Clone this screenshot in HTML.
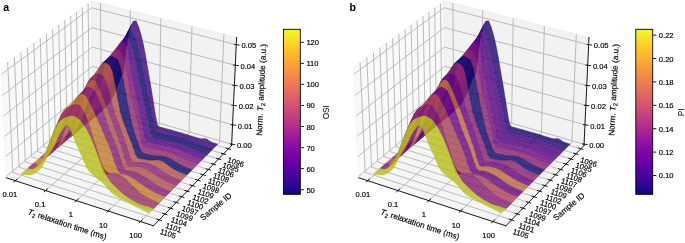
<!DOCTYPE html>
<html><head><meta charset="utf-8"><title>T2 relaxation</title>
<style>html,body{margin:0;padding:0;background:#fff}svg{display:block;will-change:transform}</style></head>
<body>
<svg width="685" height="243" viewBox="0 0 685 243">
<rect width="685" height="243" fill="#fff"/>
<polygon points="6.4,177.8 92.9,105.3 91.7,0.8 1.1,66.9" fill="#f9f9f9" stroke="#f4f4f4" stroke-width="0.8"/>
<polygon points="92.9,105.3 231.6,145.6 236.6,37.5 91.7,0.8" fill="#f2f2f2" stroke="#ececec" stroke-width="0.8"/>
<polygon points="6.4,177.8 153.5,225.8 231.6,145.6 92.9,105.3" fill="#f5f5f5" stroke="#f0f0f0" stroke-width="0.8"/>
<g fill="none" stroke="#b0b0b0" stroke-width="0.85" stroke-linejoin="round">
<polyline points="15.3,180.7 101.3,107.7 100.5,3"/>
<polyline points="45.6,190.6 129.9,116.1 130.3,10.6"/>
<polyline points="76.5,200.7 159.2,124.6 160.8,18.3"/>
<polyline points="108.2,211 189,133.2 192,26.2"/>
<polyline points="140.6,221.6 219.5,142.1 223.9,34.3"/>
<polyline points="159.2,219.9 12.8,172.4 7.7,62"/>
<polyline points="165,214 19.1,167.1 14.4,57.2"/>
<polyline points="170.6,208.2 25.3,161.9 21,52.4"/>
<polyline points="176.2,202.4 31.5,156.7 27.4,47.6"/>
<polyline points="181.7,196.8 37.6,151.6 33.8,43"/>
<polyline points="187.2,191.2 43.6,146.6 40.2,38.4"/>
<polyline points="192.6,185.7 49.6,141.6 46.4,33.8"/>
<polyline points="197.9,180.2 55.5,136.6 52.6,29.3"/>
<polyline points="203.2,174.8 61.3,131.7 58.7,24.8"/>
<polyline points="208.4,169.5 67.1,126.9 64.7,20.4"/>
<polyline points="213.5,164.2 72.8,122.1 70.7,16.1"/>
<polyline points="218.6,159 78.4,117.4 76.5,11.8"/>
<polyline points="223.6,153.9 83.9,112.8 82.3,7.6"/>
<polyline points="228.5,148.8 89.4,108.2 88.1,3.4"/>
<polyline points="6.3,176.3 92.9,103.9 231.7,144.2"/>
<polyline points="5.4,156.6 92.6,85.3 232.6,124.9"/>
<polyline points="4.4,136.5 92.4,66.3 233.5,105.4"/>
<polyline points="3.4,116.1 92.2,47.1 234.4,85.5"/>
<polyline points="2.4,95.4 92,27.6 235.3,65.3"/>
<polyline points="1.4,74.3 91.7,7.7 236.2,44.7"/>
</g>
<g fill-opacity="0.8" stroke-opacity="0.8" stroke-width="0.33" stroke-linejoin="round">
<polygon points="91.9,113.7 94.3,114.4 99.7,109.8 97.4,109.1" fill="#38027b" stroke="#38027b"/>
<polygon points="94.3,114.4 96.6,114.3 102.1,109.7 99.7,109.8" fill="#38027b" stroke="#38027b"/>
<polygon points="96.6,114.3 99,113 104.4,108.2 102.1,109.7" fill="#38027b" stroke="#38027b"/>
<polygon points="99,113 101.4,111 106.8,106.1 104.4,108.2" fill="#38027b" stroke="#38027b"/>
<polygon points="86.4,118.4 88.7,119.1 94.3,114.4 91.9,113.7" fill="#0a0667" stroke="#0a0667"/>
<polygon points="101.4,111 103.7,108.1 109.2,103.2 106.8,106.1" fill="#38027b" stroke="#38027b"/>
<polygon points="88.7,119.1 91.1,119 96.6,114.3 94.3,114.4" fill="#0a0667" stroke="#0a0667"/>
<polygon points="91.1,119 93.5,117.7 99,113 96.6,114.3" fill="#0a0667" stroke="#0a0667"/>
<polygon points="103.7,108.1 106.1,104.5 111.5,99.4 109.2,103.2" fill="#38027b" stroke="#38027b"/>
<polygon points="93.5,117.7 95.8,115.7 101.4,111 99,113" fill="#0a0667" stroke="#0a0667"/>
<polygon points="80.8,123.2 83.2,123.9 88.7,119.1 86.4,118.4" fill="#48017f" stroke="#48017f"/>
<polygon points="106.1,104.5 108.5,100.2 113.9,95 111.5,99.4" fill="#38027b" stroke="#38027b"/>
<polygon points="95.8,115.7 98.2,112.9 103.7,108.1 101.4,111" fill="#0a0667" stroke="#0a0667"/>
<polygon points="83.2,123.9 85.5,123.8 91.1,119 88.7,119.1" fill="#48017f" stroke="#48017f"/>
<polygon points="85.5,123.8 87.9,122.4 93.5,117.7 91.1,119" fill="#48017f" stroke="#48017f"/>
<polygon points="98.2,112.9 100.6,109.3 106.1,104.5 103.7,108.1" fill="#0a0667" stroke="#0a0667"/>
<polygon points="108.5,100.2 110.9,94.7 116.3,89.3 113.9,95" fill="#38027b" stroke="#38027b"/>
<polygon points="87.9,122.4 90.3,120.3 95.8,115.7 93.5,117.7" fill="#48017f" stroke="#48017f"/>
<polygon points="75.1,128 77.5,128.7 83.2,123.9 80.8,123.2" fill="#76117a" stroke="#76117a"/>
<polygon points="100.6,109.3 103,105.1 108.5,100.2 106.1,104.5" fill="#0a0667" stroke="#0a0667"/>
<polygon points="90.3,120.3 92.6,117.4 98.2,112.9 95.8,115.7" fill="#48017f" stroke="#48017f"/>
<polygon points="77.5,128.7 79.9,128.6 85.5,123.8 83.2,123.9" fill="#76117a" stroke="#76117a"/>
<polygon points="110.9,94.7 113.3,88.9 118.7,83.3 116.3,89.3" fill="#38027b" stroke="#38027b"/>
<polygon points="79.9,128.6 82.3,127.2 87.9,122.4 85.5,123.8" fill="#76117a" stroke="#76117a"/>
<polygon points="92.6,117.4 95,113.6 100.6,109.3 98.2,112.9" fill="#48017f" stroke="#48017f"/>
<polygon points="103,105.1 105.3,99.6 110.9,94.7 108.5,100.2" fill="#0a0667" stroke="#0a0667"/>
<polygon points="82.3,127.2 84.6,125.1 90.3,120.3 87.9,122.4" fill="#76117a" stroke="#76117a"/>
<polygon points="113.3,88.9 115.7,83 121.1,77.2 118.7,83.3" fill="#38027b" stroke="#38027b"/>
<polygon points="154.8,130.2 157.3,132.4 162.5,127.6 160,127" fill="#38027b" stroke="#38027b"/>
<polygon points="69.4,132.8 71.8,133.5 77.5,128.7 75.1,128" fill="#902967" stroke="#902967"/>
<polygon points="152.5,119.5 154.8,130.2 160,127 157.6,125.6" fill="#38027b" stroke="#38027b"/>
<polygon points="95,113.6 97.4,109.1 103,105.1 100.6,109.3" fill="#48017f" stroke="#48017f"/>
<polygon points="157.3,132.4 159.7,133 164.9,128.3 162.5,127.6" fill="#38027b" stroke="#38027b"/>
<polygon points="84.6,125.1 87,122.2 92.6,117.4 90.3,120.3" fill="#76117a" stroke="#76117a"/>
<polygon points="105.3,99.6 107.7,93.9 113.3,88.9 110.9,94.7" fill="#0a0667" stroke="#0a0667"/>
<polygon points="71.8,133.5 74.2,133.4 79.9,128.6 77.5,128.7" fill="#902967" stroke="#902967"/>
<polygon points="159.7,133 162.2,133.6 167.4,128.9 164.9,128.3" fill="#38027b" stroke="#38027b"/>
<polygon points="162.2,133.6 164.7,134.3 169.9,129.6 167.4,128.9" fill="#38027b" stroke="#38027b"/>
<polygon points="115.7,83 118.1,78.4 123.6,72.5 121.1,77.2" fill="#38027b" stroke="#38027b"/>
<polygon points="150.1,108.3 152.5,119.5 157.6,125.6 155.3,114.1" fill="#38027b" stroke="#38027b"/>
<polygon points="74.2,133.4 76.5,131.9 82.3,127.2 79.9,128.6" fill="#902967" stroke="#902967"/>
<polygon points="164.7,134.3 167.2,134.9 172.4,130.3 169.9,129.6" fill="#38027b" stroke="#38027b"/>
<polygon points="87,122.2 89.4,118.4 95,113.6 92.6,117.4" fill="#76117a" stroke="#76117a"/>
<polygon points="97.4,109.1 99.7,103.5 105.3,99.6 103,105.1" fill="#48017f" stroke="#48017f"/>
<polygon points="167.2,134.9 169.7,135.5 174.9,131 172.4,130.3" fill="#38027b" stroke="#38027b"/>
<polygon points="76.5,131.9 78.9,129.7 84.6,125.1 82.3,127.2" fill="#902967" stroke="#902967"/>
<polygon points="107.7,93.9 110.1,88 115.7,83 113.3,88.9" fill="#0a0667" stroke="#0a0667"/>
<polygon points="169.7,135.5 172.2,136.1 177.4,131.7 174.9,131" fill="#38027b" stroke="#38027b"/>
<polygon points="172.2,136.1 174.7,136.7 179.9,132.4 177.4,131.7" fill="#38027b" stroke="#38027b"/>
<polygon points="63.6,137.7 66,138.4 71.8,133.5 69.4,132.8" fill="#0a0667" stroke="#0a0667"/>
<polygon points="89.4,118.4 91.7,114 97.4,109.1 95,113.6" fill="#76117a" stroke="#76117a"/>
<polygon points="152,137.1 154.5,137.8 159.7,133 157.3,132.4" fill="#0a0667" stroke="#0a0667"/>
<polygon points="147.7,97 150.1,108.3 155.3,114.1 153,99.1" fill="#38027b" stroke="#38027b"/>
<polygon points="149.6,126.1 152,137.1 157.3,132.4 154.8,130.2" fill="#0a0667" stroke="#0a0667"/>
<polygon points="78.9,129.7 81.3,126.7 87,122.2 84.6,125.1" fill="#902967" stroke="#902967"/>
<polygon points="174.7,136.7 177.2,137.2 182.4,133.1 179.9,132.4" fill="#38027b" stroke="#38027b"/>
<polygon points="66,138.4 68.4,138.3 74.2,133.4 71.8,133.5" fill="#0a0667" stroke="#0a0667"/>
<polygon points="99.7,103.5 102.1,97.5 107.7,93.9 105.3,99.6" fill="#48017f" stroke="#48017f"/>
<polygon points="118.1,78.4 120.6,74.7 126.1,50.3 123.6,72.5" fill="#38027b" stroke="#38027b"/>
<polygon points="154.5,137.8 157,138.4 162.2,133.6 159.7,133" fill="#0a0667" stroke="#0a0667"/>
<polygon points="177.2,137.2 179.7,137.8 184.9,133.9 182.4,133.1" fill="#38027b" stroke="#38027b"/>
<polygon points="110.1,88 112.6,83.5 118.1,78.4 115.7,83" fill="#0a0667" stroke="#0a0667"/>
<polygon points="157,138.4 159.5,139 164.7,134.3 162.2,133.6" fill="#0a0667" stroke="#0a0667"/>
<polygon points="68.4,138.3 70.8,136.7 76.5,131.9 74.2,133.4" fill="#0a0667" stroke="#0a0667"/>
<polygon points="179.7,137.8 182.3,138.5 187.4,134.6 184.9,133.9" fill="#38027b" stroke="#38027b"/>
<polygon points="159.5,139 162,139.6 167.2,134.9 164.7,134.3" fill="#0a0667" stroke="#0a0667"/>
<polygon points="147.2,115 149.6,126.1 154.8,130.2 152.5,119.5" fill="#0a0667" stroke="#0a0667"/>
<polygon points="81.3,126.7 83.6,122.7 89.4,118.4 87,122.2" fill="#902967" stroke="#902967"/>
<polygon points="182.3,138.5 184.8,139.2 189.9,135.4 187.4,134.6" fill="#38027b" stroke="#38027b"/>
<polygon points="91.7,114 94.1,108.3 99.7,103.5 97.4,109.1" fill="#76117a" stroke="#76117a"/>
<polygon points="162,139.6 164.5,140.1 169.7,135.5 167.2,134.9" fill="#0a0667" stroke="#0a0667"/>
<polygon points="184.8,139.2 187.3,140 192.4,136.2 189.9,135.4" fill="#38027b" stroke="#38027b"/>
<polygon points="70.8,136.7 73.1,134.5 78.9,129.7 76.5,131.9" fill="#0a0667" stroke="#0a0667"/>
<polygon points="145.3,86 147.7,97 153,99.1 150.7,85" fill="#38027b" stroke="#38027b"/>
<polygon points="102.1,97.5 104.5,91.3 110.1,88 107.7,93.9" fill="#48017f" stroke="#48017f"/>
<polygon points="112.6,83.5 115,79.8 120.6,74.7 118.1,78.4" fill="#0a0667" stroke="#0a0667"/>
<polygon points="164.5,140.1 167,140.7 172.2,136.1 169.7,135.5" fill="#0a0667" stroke="#0a0667"/>
<polygon points="187.3,140 189.8,140.9 194.9,137 192.4,136.2" fill="#38027b" stroke="#38027b"/>
<polygon points="57.7,142.7 60.1,143.4 66,138.4 63.6,137.7" fill="#b15446" stroke="#b15446"/>
<polygon points="167,140.7 169.5,141.2 174.7,136.7 172.2,136.1" fill="#0a0667" stroke="#0a0667"/>
<polygon points="189.8,140.9 192.4,141.9 197.4,137.8 194.9,137" fill="#38027b" stroke="#38027b"/>
<polygon points="83.6,122.7 86,118.1 91.7,114 89.4,118.4" fill="#902967" stroke="#902967"/>
<polygon points="146.6,141.9 149.1,142.5 154.5,137.8 152,137.1" fill="#48017f" stroke="#48017f"/>
<polygon points="144.8,103.9 147.2,115 152.5,119.5 150.1,108.3" fill="#0a0667" stroke="#0a0667"/>
<polygon points="73.1,134.5 75.5,131.3 81.3,126.7 78.9,129.7" fill="#0a0667" stroke="#0a0667"/>
<polygon points="192.4,141.9 194.9,142.9 200,138.5 197.4,137.8" fill="#38027b" stroke="#38027b"/>
<polygon points="60.1,143.4 62.5,143.2 68.4,138.3 66,138.4" fill="#b15446" stroke="#b15446"/>
<polygon points="169.5,141.2 172,141.7 177.2,137.2 174.7,136.7" fill="#0a0667" stroke="#0a0667"/>
<polygon points="94.1,108.3 96.5,102.3 102.1,97.5 99.7,103.5" fill="#76117a" stroke="#76117a"/>
<polygon points="144.2,135.2 146.6,141.9 152,137.1 149.6,126.1" fill="#48017f" stroke="#48017f"/>
<polygon points="149.1,142.5 151.6,143.1 157,138.4 154.5,137.8" fill="#48017f" stroke="#48017f"/>
<polygon points="194.9,142.9 197.4,143.9 202.5,138.8 200,138.5" fill="#38027b" stroke="#38027b"/>
<polygon points="172,141.7 174.6,142.2 179.7,137.8 177.2,137.2" fill="#0a0667" stroke="#0a0667"/>
<polygon points="104.5,91.3 107,86.6 112.6,83.5 110.1,88" fill="#48017f" stroke="#48017f"/>
<polygon points="151.6,143.1 154.1,143.7 159.5,139 157,138.4" fill="#48017f" stroke="#48017f"/>
<polygon points="120.6,74.7 123,57.3 128.6,33.3 126.1,50.3" fill="#38027b" stroke="#38027b"/>
<polygon points="62.5,143.2 64.9,141.6 70.8,136.7 68.4,138.3" fill="#b15446" stroke="#b15446"/>
<polygon points="142.9,74 145.3,86 150.7,85 148.3,71.5" fill="#38027b" stroke="#38027b"/>
<polygon points="115,79.8 117.5,77.3 123,57.3 120.6,74.7" fill="#0a0667" stroke="#0a0667"/>
<polygon points="197.4,143.9 200,144.8 205.1,138.5 202.5,138.8" fill="#38027b" stroke="#38027b"/>
<polygon points="174.6,142.2 177.1,142.8 182.3,138.5 179.7,137.8" fill="#0a0667" stroke="#0a0667"/>
<polygon points="154.1,143.7 156.7,144.2 162,139.6 159.5,139" fill="#48017f" stroke="#48017f"/>
<polygon points="75.5,131.3 77.8,127.1 83.6,122.7 81.3,126.7" fill="#0a0667" stroke="#0a0667"/>
<polygon points="86,118.1 88.4,112.2 94.1,108.3 91.7,114" fill="#902967" stroke="#902967"/>
<polygon points="200,144.8 202.5,145.7 207.6,139.4 205.1,138.5" fill="#38027b" stroke="#38027b"/>
<polygon points="177.1,142.8 179.6,143.5 184.8,139.2 182.3,138.5" fill="#0a0667" stroke="#0a0667"/>
<polygon points="142.4,92.9 144.8,103.9 150.1,108.3 147.7,97" fill="#0a0667" stroke="#0a0667"/>
<polygon points="156.7,144.2 159.2,144.8 164.5,140.1 162,139.6" fill="#48017f" stroke="#48017f"/>
<polygon points="141.8,122.4 144.2,135.2 149.6,126.1 147.2,115" fill="#48017f" stroke="#48017f"/>
<polygon points="202.5,145.7 205.1,146.6 210.1,141.3 207.6,139.4" fill="#38027b" stroke="#38027b"/>
<polygon points="64.9,141.6 67.3,139.2 73.1,134.5 70.8,136.7" fill="#b15446" stroke="#b15446"/>
<polygon points="179.6,143.5 182.2,144.3 187.3,140 184.8,139.2" fill="#0a0667" stroke="#0a0667"/>
<polygon points="96.5,102.3 98.9,96.2 104.5,91.3 102.1,97.5" fill="#76117a" stroke="#76117a"/>
<polygon points="107,86.6 109.4,82.8 115,79.8 112.6,83.5" fill="#48017f" stroke="#48017f"/>
<polygon points="205.1,146.6 207.7,147.5 212.7,142.5 210.1,141.3" fill="#38027b" stroke="#38027b"/>
<polygon points="159.2,144.8 161.7,145.3 167,140.7 164.5,140.1" fill="#48017f" stroke="#48017f"/>
<polygon points="182.2,144.3 184.7,145.3 189.8,140.9 187.3,140" fill="#0a0667" stroke="#0a0667"/>
<polygon points="51.8,147.7 54.2,148.4 60.1,143.4 57.7,142.7" fill="#88206e" stroke="#88206e"/>
<polygon points="207.7,147.5 210.2,148.3 215.2,143.3 212.7,142.5" fill="#38027b" stroke="#38027b"/>
<polygon points="161.7,145.3 164.2,145.8 169.5,141.2 167,140.7" fill="#48017f" stroke="#48017f"/>
<polygon points="184.7,145.3 187.2,146.3 192.4,141.9 189.8,140.9" fill="#0a0667" stroke="#0a0667"/>
<polygon points="77.8,127.1 80.2,122.3 86,118.1 83.6,122.7" fill="#0a0667" stroke="#0a0667"/>
<polygon points="140.5,61.5 142.9,74 148.3,71.5 146,57.6" fill="#38027b" stroke="#38027b"/>
<polygon points="210.2,148.3 212.8,149.1 217.8,144.1 215.2,143.3" fill="#38027b" stroke="#38027b"/>
<polygon points="54.2,148.4 56.6,148.3 62.5,143.2 60.1,143.4" fill="#88206e" stroke="#88206e"/>
<polygon points="67.3,139.2 69.6,135.9 75.5,131.3 73.1,134.5" fill="#b15446" stroke="#b15446"/>
<polygon points="141.2,142.1 143.7,147.2 149.1,142.5 146.6,141.9" fill="#76117a" stroke="#76117a"/>
<polygon points="187.2,146.3 189.8,147.4 194.9,142.9 192.4,141.9" fill="#0a0667" stroke="#0a0667"/>
<polygon points="164.2,145.8 166.8,146.3 172,141.7 169.5,141.2" fill="#48017f" stroke="#48017f"/>
<polygon points="88.4,112.2 90.7,105.9 96.5,102.3 94.1,108.3" fill="#902967" stroke="#902967"/>
<polygon points="109.4,82.8 111.9,80.1 117.5,77.3 115,79.8" fill="#48017f" stroke="#48017f"/>
<polygon points="143.7,147.2 146.2,147.8 151.6,143.1 149.1,142.5" fill="#76117a" stroke="#76117a"/>
<polygon points="140,81.8 142.4,92.9 147.7,97 145.3,86" fill="#0a0667" stroke="#0a0667"/>
<polygon points="189.8,147.4 192.3,148.5 197.4,143.9 194.9,142.9" fill="#0a0667" stroke="#0a0667"/>
<polygon points="139.4,110.6 141.8,122.4 147.2,115 144.8,103.9" fill="#48017f" stroke="#48017f"/>
<polygon points="166.8,146.3 169.3,146.8 174.6,142.2 172,141.7" fill="#48017f" stroke="#48017f"/>
<polygon points="98.9,96.2 101.3,91.5 107,86.6 104.5,91.3" fill="#76117a" stroke="#76117a"/>
<polygon points="146.2,147.8 148.8,148.3 154.1,143.7 151.6,143.1" fill="#76117a" stroke="#76117a"/>
<polygon points="138.8,128.3 141.2,142.1 146.6,141.9 144.2,135.2" fill="#76117a" stroke="#76117a"/>
<polygon points="56.6,148.3 59,146.6 64.9,141.6 62.5,143.2" fill="#88206e" stroke="#88206e"/>
<polygon points="192.3,148.5 194.9,149.6 200,144.8 197.4,143.9" fill="#0a0667" stroke="#0a0667"/>
<polygon points="169.3,146.8 171.9,147.5 177.1,142.8 174.6,142.2" fill="#48017f" stroke="#48017f"/>
<polygon points="148.8,148.3 151.3,148.9 156.7,144.2 154.1,143.7" fill="#76117a" stroke="#76117a"/>
<polygon points="194.9,149.6 197.4,150.6 202.5,145.7 200,144.8" fill="#0a0667" stroke="#0a0667"/>
<polygon points="69.6,135.9 72,131.6 77.8,127.1 75.5,131.3" fill="#b15446" stroke="#b15446"/>
<polygon points="123,57.3 125.6,37.6 131.1,25.2 128.6,33.3" fill="#38027b" stroke="#38027b"/>
<polygon points="117.5,77.3 120,57.8 125.6,37.6 123,57.3" fill="#0a0667" stroke="#0a0667"/>
<polygon points="80.2,122.3 82.6,116.1 88.4,112.2 86,118.1" fill="#0a0667" stroke="#0a0667"/>
<polygon points="171.9,147.5 174.4,148.2 179.6,143.5 177.1,142.8" fill="#48017f" stroke="#48017f"/>
<polygon points="197.4,150.6 200,151.6 205.1,146.6 202.5,145.7" fill="#0a0667" stroke="#0a0667"/>
<polygon points="151.3,148.9 153.8,149.4 159.2,144.8 156.7,144.2" fill="#76117a" stroke="#76117a"/>
<polygon points="59,146.6 61.4,144.2 67.3,139.2 64.9,141.6" fill="#88206e" stroke="#88206e"/>
<polygon points="138.1,49.8 140.5,61.5 146,57.6 143.6,45" fill="#38027b" stroke="#38027b"/>
<polygon points="174.4,148.2 176.9,149.1 182.2,144.3 179.6,143.5" fill="#48017f" stroke="#48017f"/>
<polygon points="137.5,69.4 140,81.8 145.3,86 142.9,74" fill="#0a0667" stroke="#0a0667"/>
<polygon points="90.7,105.9 93.1,99.5 98.9,96.2 96.5,102.3" fill="#902967" stroke="#902967"/>
<polygon points="200,151.6 202.6,152.5 207.7,147.5 205.1,146.6" fill="#0a0667" stroke="#0a0667"/>
<polygon points="101.3,91.5 103.8,87.6 109.4,82.8 107,86.6" fill="#76117a" stroke="#76117a"/>
<polygon points="153.8,149.4 156.4,149.9 161.7,145.3 159.2,144.8" fill="#76117a" stroke="#76117a"/>
<polygon points="136.9,99.5 139.4,110.6 144.8,103.9 142.4,92.9" fill="#48017f" stroke="#48017f"/>
<polygon points="176.9,149.1 179.5,150.1 184.7,145.3 182.2,144.3" fill="#48017f" stroke="#48017f"/>
<polygon points="136.4,118.6 138.8,128.3 144.2,135.2 141.8,122.4" fill="#76117a" stroke="#76117a"/>
<polygon points="45.8,152.8 48.2,153.5 54.2,148.4 51.8,147.7" fill="#af5148" stroke="#af5148"/>
<polygon points="202.6,152.5 205.1,153.4 210.2,148.3 207.7,147.5" fill="#0a0667" stroke="#0a0667"/>
<polygon points="111.9,80.1 114.4,69.2 120,57.8 117.5,77.3" fill="#48017f" stroke="#48017f"/>
<polygon points="156.4,149.9 158.9,150.3 164.2,145.8 161.7,145.3" fill="#76117a" stroke="#76117a"/>
<polygon points="179.5,150.1 182,151.2 187.2,146.3 184.7,145.3" fill="#48017f" stroke="#48017f"/>
<polygon points="72,131.6 74.3,126.6 80.2,122.3 77.8,127.1" fill="#b15446" stroke="#b15446"/>
<polygon points="205.1,153.4 207.7,154.2 212.8,149.1 210.2,148.3" fill="#0a0667" stroke="#0a0667"/>
<polygon points="48.2,153.5 50.6,153.4 56.6,148.3 54.2,148.4" fill="#af5148" stroke="#af5148"/>
<polygon points="61.4,144.2 63.7,140.8 69.6,135.9 67.3,139.2" fill="#88206e" stroke="#88206e"/>
<polygon points="182,151.2 184.6,152.3 189.8,147.4 187.2,146.3" fill="#48017f" stroke="#48017f"/>
<polygon points="158.9,150.3 161.4,150.8 166.8,146.3 164.2,145.8" fill="#76117a" stroke="#76117a"/>
<polygon points="82.6,116.1 84.9,109.6 90.7,105.9 88.4,112.2" fill="#0a0667" stroke="#0a0667"/>
<polygon points="103.8,87.6 106.2,83.3 111.9,80.1 109.4,82.8" fill="#76117a" stroke="#76117a"/>
<polygon points="135.6,40.2 138.1,49.8 143.6,45 141.1,34.5" fill="#38027b" stroke="#38027b"/>
<polygon points="184.6,152.3 187.2,153.5 192.3,148.5 189.8,147.4" fill="#48017f" stroke="#48017f"/>
<polygon points="161.4,150.8 164,151.3 169.3,146.8 166.8,146.3" fill="#76117a" stroke="#76117a"/>
<polygon points="50.6,153.4 53,151.7 59,146.6 56.6,148.3" fill="#af5148" stroke="#af5148"/>
<polygon points="93.1,99.5 95.6,94.6 101.3,91.5 98.9,96.2" fill="#902967" stroke="#902967"/>
<polygon points="138.3,143.8 140.8,150.3 146.2,147.8 143.7,147.2" fill="#902967" stroke="#902967"/>
<polygon points="140.8,150.3 143.3,153.2 148.8,148.3 146.2,147.8" fill="#902967" stroke="#902967"/>
<polygon points="187.2,153.5 189.7,154.6 194.9,149.6 192.3,148.5" fill="#48017f" stroke="#48017f"/>
<polygon points="134.5,88.5 136.9,99.5 142.4,92.9 140,81.8" fill="#48017f" stroke="#48017f"/>
<polygon points="135.1,57.3 137.5,69.4 142.9,74 140.5,61.5" fill="#0a0667" stroke="#0a0667"/>
<polygon points="125.6,37.6 128.1,31.1 133.7,20.9 131.1,25.2" fill="#38027b" stroke="#38027b"/>
<polygon points="133.9,108.7 136.4,118.6 141.8,122.4 139.4,110.6" fill="#76117a" stroke="#76117a"/>
<polygon points="164,151.3 166.6,151.8 171.9,147.5 169.3,146.8" fill="#76117a" stroke="#76117a"/>
<polygon points="135.8,137.1 138.3,143.8 143.7,147.2 141.2,142.1" fill="#902967" stroke="#902967"/>
<polygon points="143.3,153.2 145.8,153.8 151.3,148.9 148.8,148.3" fill="#902967" stroke="#902967"/>
<polygon points="189.7,154.6 192.3,155.6 197.4,150.6 194.9,149.6" fill="#48017f" stroke="#48017f"/>
<polygon points="63.7,140.8 66.1,136.4 72,131.6 69.6,135.9" fill="#88206e" stroke="#88206e"/>
<polygon points="133.1,34.3 135.6,40.2 141.1,34.5 138.7,26.7" fill="#38027b" stroke="#38027b"/>
<polygon points="166.6,151.8 169.1,152.6 174.4,148.2 171.9,147.5" fill="#76117a" stroke="#76117a"/>
<polygon points="74.3,126.6 76.7,120.2 82.6,116.1 80.2,122.3" fill="#b15446" stroke="#b15446"/>
<polygon points="192.3,155.6 194.9,156.6 200,151.6 197.4,150.6" fill="#48017f" stroke="#48017f"/>
<polygon points="145.8,153.8 148.4,154.4 153.8,149.4 151.3,148.9" fill="#902967" stroke="#902967"/>
<polygon points="53,151.7 55.4,149.3 61.4,144.2 59,146.6" fill="#af5148" stroke="#af5148"/>
<polygon points="128.1,31.1 130.6,31.6 136.2,20.8 133.7,20.9" fill="#38027b" stroke="#38027b"/>
<polygon points="169.1,152.6 171.7,153.5 176.9,149.1 174.4,148.2" fill="#76117a" stroke="#76117a"/>
<polygon points="194.9,156.6 197.4,157.5 202.6,152.5 200,151.6" fill="#48017f" stroke="#48017f"/>
<polygon points="120,57.8 122.5,42.3 128.1,31.1 125.6,37.6" fill="#0a0667" stroke="#0a0667"/>
<polygon points="130.6,31.6 133.1,34.3 138.7,26.7 136.2,20.8" fill="#38027b" stroke="#38027b"/>
<polygon points="148.4,154.4 150.9,154.9 156.4,149.9 153.8,149.4" fill="#902967" stroke="#902967"/>
<polygon points="95.6,94.6 98,90.5 103.8,87.6 101.3,91.5" fill="#902967" stroke="#902967"/>
<polygon points="84.9,109.6 87.3,102.9 93.1,99.5 90.7,105.9" fill="#0a0667" stroke="#0a0667"/>
<polygon points="133.3,129.3 135.8,137.1 141.2,142.1 138.8,128.3" fill="#902967" stroke="#902967"/>
<polygon points="39.7,157.9 42.2,158.7 48.2,153.5 45.8,152.8" fill="#831c72" stroke="#831c72"/>
<polygon points="171.7,153.5 174.2,154.6 179.5,150.1 176.9,149.1" fill="#76117a" stroke="#76117a"/>
<polygon points="197.4,157.5 200,158.4 205.1,153.4 202.6,152.5" fill="#48017f" stroke="#48017f"/>
<polygon points="132.6,47 135.1,57.3 140.5,61.5 138.1,49.8" fill="#0a0667" stroke="#0a0667"/>
<polygon points="150.9,154.9 153.5,155.4 158.9,150.3 156.4,149.9" fill="#902967" stroke="#902967"/>
<polygon points="131.4,97 133.9,108.7 139.4,110.6 136.9,99.5" fill="#76117a" stroke="#76117a"/>
<polygon points="132,74.9 134.5,88.5 140,81.8 137.5,69.4" fill="#48017f" stroke="#48017f"/>
<polygon points="106.2,83.3 108.6,66 114.4,69.2 111.9,80.1" fill="#76117a" stroke="#76117a"/>
<polygon points="174.2,154.6 176.8,155.8 182,151.2 179.5,150.1" fill="#76117a" stroke="#76117a"/>
<polygon points="200,158.4 202.6,159.3 207.7,154.2 205.1,153.4" fill="#48017f" stroke="#48017f"/>
<polygon points="42.2,158.7 44.6,158.5 50.6,153.4 48.2,153.5" fill="#831c72" stroke="#831c72"/>
<polygon points="66.1,136.4 68.4,131.3 74.3,126.6 72,131.6" fill="#88206e" stroke="#88206e"/>
<polygon points="55.4,149.3 57.7,145.9 63.7,140.8 61.4,144.2" fill="#af5148" stroke="#af5148"/>
<polygon points="176.8,155.8 179.3,157 184.6,152.3 182,151.2" fill="#76117a" stroke="#76117a"/>
<polygon points="153.5,155.4 156,155.8 161.4,150.8 158.9,150.3" fill="#902967" stroke="#902967"/>
<polygon points="114.4,69.2 116.8,51.5 122.5,42.3 120,57.8" fill="#48017f" stroke="#48017f"/>
<polygon points="179.3,157 181.9,158.3 187.2,153.5 184.6,152.3" fill="#76117a" stroke="#76117a"/>
<polygon points="76.7,120.2 79,113.4 84.9,109.6 82.6,116.1" fill="#b15446" stroke="#b15446"/>
<polygon points="98,90.5 100.5,87.7 106.2,83.3 103.8,87.6" fill="#902967" stroke="#902967"/>
<polygon points="44.6,158.5 47,156.9 53,151.7 50.6,153.4" fill="#831c72" stroke="#831c72"/>
<polygon points="156,155.8 158.6,156.1 164,151.3 161.4,150.8" fill="#902967" stroke="#902967"/>
<polygon points="130.8,119.3 133.3,129.3 138.8,128.3 136.4,118.6" fill="#902967" stroke="#902967"/>
<polygon points="181.9,158.3 184.5,159.5 189.7,154.6 187.2,153.5" fill="#76117a" stroke="#76117a"/>
<polygon points="130.1,40.5 132.6,47 138.1,49.8 135.6,40.2" fill="#0a0667" stroke="#0a0667"/>
<polygon points="122.5,42.3 125,37 130.6,31.6 128.1,31.1" fill="#0a0667" stroke="#0a0667"/>
<polygon points="135.3,154.9 137.8,158.4 143.3,153.2 140.8,150.3" fill="#0a0667" stroke="#0a0667"/>
<polygon points="87.3,102.9 89.7,97.8 95.6,94.6 93.1,99.5" fill="#0a0667" stroke="#0a0667"/>
<polygon points="137.8,158.4 140.3,159 145.8,153.8 143.3,153.2" fill="#0a0667" stroke="#0a0667"/>
<polygon points="158.6,156.1 161.2,156.3 166.6,151.8 164,151.3" fill="#902967" stroke="#902967"/>
<polygon points="184.5,159.5 187.1,160.6 192.3,155.6 189.7,154.6" fill="#76117a" stroke="#76117a"/>
<polygon points="57.7,145.9 60.1,141.5 66.1,136.4 63.7,140.8" fill="#af5148" stroke="#af5148"/>
<polygon points="128.9,85 131.4,97 136.9,99.5 134.5,88.5" fill="#76117a" stroke="#76117a"/>
<polygon points="132.8,146.9 135.3,154.9 140.8,150.3 138.3,143.8" fill="#0a0667" stroke="#0a0667"/>
<polygon points="127.6,37.7 130.1,40.5 135.6,40.2 133.1,34.3" fill="#0a0667" stroke="#0a0667"/>
<polygon points="125,37 127.6,37.7 133.1,34.3 130.6,31.6" fill="#0a0667" stroke="#0a0667"/>
<polygon points="187.1,160.6 189.6,161.7 194.9,156.6 192.3,155.6" fill="#76117a" stroke="#76117a"/>
<polygon points="140.3,159 142.9,159.6 148.4,154.4 145.8,153.8" fill="#0a0667" stroke="#0a0667"/>
<polygon points="68.4,131.3 70.7,124.8 76.7,120.2 74.3,126.6" fill="#88206e" stroke="#88206e"/>
<polygon points="47,156.9 49.3,154.5 55.4,149.3 53,151.7" fill="#831c72" stroke="#831c72"/>
<polygon points="161.2,156.3 163.8,156.7 169.1,152.6 166.6,151.8" fill="#902967" stroke="#902967"/>
<polygon points="129.5,60.3 132,74.9 137.5,69.4 135.1,57.3" fill="#48017f" stroke="#48017f"/>
<polygon points="189.6,161.7 192.2,162.6 197.4,157.5 194.9,156.6" fill="#76117a" stroke="#76117a"/>
<polygon points="142.9,159.6 145.5,160.1 150.9,154.9 148.4,154.4" fill="#0a0667" stroke="#0a0667"/>
<polygon points="163.8,156.7 166.3,157.2 171.7,153.5 169.1,152.6" fill="#902967" stroke="#902967"/>
<polygon points="130.3,140.6 132.8,146.9 138.3,143.8 135.8,137.1" fill="#0a0667" stroke="#0a0667"/>
<polygon points="33.6,163.1 36,163.9 42.2,158.7 39.7,157.9" fill="#c07a2d" stroke="#c07a2d"/>
<polygon points="128.3,107.4 130.8,119.3 136.4,118.6 133.9,108.7" fill="#902967" stroke="#902967"/>
<polygon points="192.2,162.6 194.8,163.6 200,158.4 197.4,157.5" fill="#76117a" stroke="#76117a"/>
<polygon points="79,113.4 81.4,106.4 87.3,102.9 84.9,109.6" fill="#b15446" stroke="#b15446"/>
<polygon points="89.7,97.8 92.2,93.6 98,90.5 95.6,94.6" fill="#0a0667" stroke="#0a0667"/>
<polygon points="166.3,157.2 168.9,158.2 174.2,154.6 171.7,153.5" fill="#902967" stroke="#902967"/>
<polygon points="145.5,160.1 148,160.4 153.5,155.4 150.9,154.9" fill="#0a0667" stroke="#0a0667"/>
<polygon points="36,163.9 38.5,164.5 44.6,158.5 42.2,158.7" fill="#c07a2d" stroke="#c07a2d"/>
<polygon points="194.8,163.6 197.4,164.5 202.6,159.3 200,158.4" fill="#76117a" stroke="#76117a"/>
<polygon points="49.3,154.5 51.7,151.1 57.7,145.9 55.4,149.3" fill="#831c72" stroke="#831c72"/>
<polygon points="60.1,141.5 62.4,136.4 68.4,131.3 66.1,136.4" fill="#af5148" stroke="#af5148"/>
<polygon points="168.9,158.2 171.5,159.4 176.8,155.8 174.2,154.6" fill="#902967" stroke="#902967"/>
<polygon points="127.7,134.2 130.3,140.6 135.8,137.1 133.3,129.3" fill="#0a0667" stroke="#0a0667"/>
<polygon points="108.6,66 111.1,56.4 116.8,51.5 114.4,69.2" fill="#76117a" stroke="#76117a"/>
<polygon points="100.5,87.7 102.9,72.3 108.6,66 106.2,83.3" fill="#902967" stroke="#902967"/>
<polygon points="116.8,51.5 119.4,44.2 125,37 122.5,42.3" fill="#48017f" stroke="#48017f"/>
<polygon points="148,160.4 150.6,160.5 156,155.8 153.5,155.4" fill="#0a0667" stroke="#0a0667"/>
<polygon points="171.5,159.4 174.1,160.9 179.3,157 176.8,155.8" fill="#902967" stroke="#902967"/>
<polygon points="126.4,71.5 128.9,85 134.5,88.5 132,74.9" fill="#76117a" stroke="#76117a"/>
<polygon points="38.5,164.5 40.9,163.5 47,156.9 44.6,158.5" fill="#c07a2d" stroke="#c07a2d"/>
<polygon points="127,48.5 129.5,60.3 135.1,57.3 132.6,47" fill="#48017f" stroke="#48017f"/>
<polygon points="174.1,160.9 176.6,162.5 181.9,158.3 179.3,157" fill="#902967" stroke="#902967"/>
<polygon points="70.7,124.8 73.1,117.9 79,113.4 76.7,120.2" fill="#88206e" stroke="#88206e"/>
<polygon points="150.6,160.5 153.2,160.4 158.6,156.1 156,155.8" fill="#0a0667" stroke="#0a0667"/>
<polygon points="176.6,162.5 179.2,164.1 184.5,159.5 181.9,158.3" fill="#902967" stroke="#902967"/>
<polygon points="92.2,93.6 94.6,87.9 100.5,87.7 98,90.5" fill="#0a0667" stroke="#0a0667"/>
<polygon points="125.2,127.3 127.7,134.2 133.3,129.3 130.8,119.3" fill="#0a0667" stroke="#0a0667"/>
<polygon points="125.8,93.3 128.3,107.4 133.9,108.7 131.4,97" fill="#902967" stroke="#902967"/>
<polygon points="129.7,155.9 132.2,162.4 137.8,158.4 135.3,154.9" fill="#b15446" stroke="#b15446"/>
<polygon points="179.2,164.1 181.8,165.5 187.1,160.6 184.5,159.5" fill="#902967" stroke="#902967"/>
<polygon points="51.7,151.1 54,146.7 60.1,141.5 57.7,145.9" fill="#831c72" stroke="#831c72"/>
<polygon points="132.2,162.4 134.8,162.6 140.3,159 137.8,158.4" fill="#b15446" stroke="#b15446"/>
<polygon points="153.2,160.4 155.8,160.2 161.2,156.3 158.6,156.1" fill="#0a0667" stroke="#0a0667"/>
<polygon points="119.4,44.2 121.9,41.6 127.6,37.7 125,37" fill="#48017f" stroke="#48017f"/>
<polygon points="40.9,163.5 43.2,161.1 49.3,154.5 47,156.9" fill="#c07a2d" stroke="#c07a2d"/>
<polygon points="81.4,106.4 83.7,95.9 89.7,97.8 87.3,102.9" fill="#b15446" stroke="#b15446"/>
<polygon points="181.8,165.5 184.4,166.7 189.6,161.7 187.1,160.6" fill="#902967" stroke="#902967"/>
<polygon points="62.4,136.4 64.7,129.9 70.7,124.8 68.4,131.3" fill="#af5148" stroke="#af5148"/>
<polygon points="124.4,43.2 127,48.5 132.6,47 130.1,40.5" fill="#48017f" stroke="#48017f"/>
<polygon points="134.8,162.6 137.4,162.6 142.9,159.6 140.3,159" fill="#b15446" stroke="#b15446"/>
<polygon points="121.9,41.6 124.4,43.2 130.1,40.5 127.6,37.7" fill="#48017f" stroke="#48017f"/>
<polygon points="155.8,160.2 158.3,160.2 163.8,156.7 161.2,156.3" fill="#0a0667" stroke="#0a0667"/>
<polygon points="127.2,147.5 129.7,155.9 135.3,154.9 132.8,146.9" fill="#b15446" stroke="#b15446"/>
<polygon points="184.4,166.7 187,167.8 192.2,162.6 189.6,161.7" fill="#902967" stroke="#902967"/>
<polygon points="122.7,120.5 125.2,127.3 130.8,119.3 128.3,107.4" fill="#0a0667" stroke="#0a0667"/>
<polygon points="27.3,168.4 29.8,169 36,163.9 33.6,163.1" fill="#963061" stroke="#963061"/>
<polygon points="137.4,162.6 139.9,162.6 145.5,160.1 142.9,159.6" fill="#b15446" stroke="#b15446"/>
<polygon points="187,167.8 189.6,168.8 194.8,163.6 192.2,162.6" fill="#902967" stroke="#902967"/>
<polygon points="158.3,160.2 160.9,160.8 166.3,157.2 163.8,156.7" fill="#0a0667" stroke="#0a0667"/>
<polygon points="123.9,59.1 126.4,71.5 132,74.9 129.5,60.3" fill="#76117a" stroke="#76117a"/>
<polygon points="73.1,117.9 75.4,110.8 81.4,106.4 79,113.4" fill="#88206e" stroke="#88206e"/>
<polygon points="111.1,56.4 113.6,51.6 119.4,44.2 116.8,51.5" fill="#76117a" stroke="#76117a"/>
<polygon points="43.2,161.1 45.6,157.9 51.7,151.1 49.3,154.5" fill="#c07a2d" stroke="#c07a2d"/>
<polygon points="29.8,169 32.3,169.4 38.5,164.5 36,163.9" fill="#963061" stroke="#963061"/>
<polygon points="189.6,168.8 192.2,169.7 197.4,164.5 194.8,163.6" fill="#902967" stroke="#902967"/>
<polygon points="54,146.7 56.3,141.6 62.4,136.4 60.1,141.5" fill="#831c72" stroke="#831c72"/>
<polygon points="160.9,160.8 163.5,162.1 168.9,158.2 166.3,157.2" fill="#0a0667" stroke="#0a0667"/>
<polygon points="124.6,140.3 127.2,147.5 132.8,146.9 130.3,140.6" fill="#b15446" stroke="#b15446"/>
<polygon points="139.9,162.6 142.5,162.7 148,160.4 145.5,160.1" fill="#b15446" stroke="#b15446"/>
<polygon points="123.3,80.5 125.8,93.3 131.4,97 128.9,85" fill="#902967" stroke="#902967"/>
<polygon points="163.5,162.1 166.1,163.9 171.5,159.4 168.9,158.2" fill="#0a0667" stroke="#0a0667"/>
<polygon points="102.9,72.3 105.3,62.9 111.1,56.4 108.6,66" fill="#902967" stroke="#902967"/>
<polygon points="32.3,169.4 34.7,168.5 40.9,163.5 38.5,164.5" fill="#963061" stroke="#963061"/>
<polygon points="94.6,87.9 97,74.1 102.9,72.3 100.5,87.7" fill="#0a0667" stroke="#0a0667"/>
<polygon points="166.1,163.9 168.7,166 174.1,160.9 171.5,159.4" fill="#0a0667" stroke="#0a0667"/>
<polygon points="142.5,162.7 145.1,162.9 150.6,160.5 148,160.4" fill="#b15446" stroke="#b15446"/>
<polygon points="83.7,95.9 86.1,87.4 92.2,93.6 89.7,97.8" fill="#b15446" stroke="#b15446"/>
<polygon points="64.7,129.9 67.1,123 73.1,117.9 70.7,124.8" fill="#af5148" stroke="#af5148"/>
<polygon points="122.1,133 124.6,140.3 130.3,140.6 127.7,134.2" fill="#b15446" stroke="#b15446"/>
<polygon points="168.7,166 171.2,167.9 176.6,162.5 174.1,160.9" fill="#0a0667" stroke="#0a0667"/>
<polygon points="120.1,112.3 122.7,120.5 128.3,107.4 125.8,93.3" fill="#0a0667" stroke="#0a0667"/>
<polygon points="171.2,167.9 173.8,169.6 179.2,164.1 176.6,162.5" fill="#0a0667" stroke="#0a0667"/>
<polygon points="113.6,51.6 116.2,49.6 121.9,41.6 119.4,44.2" fill="#76117a" stroke="#76117a"/>
<polygon points="145.1,162.9 147.7,163.4 153.2,160.4 150.6,160.5" fill="#b15446" stroke="#b15446"/>
<polygon points="45.6,157.9 47.9,153.5 54,146.7 51.7,151.1" fill="#c07a2d" stroke="#c07a2d"/>
<polygon points="121.3,52.2 123.9,59.1 129.5,60.3 127,48.5" fill="#76117a" stroke="#76117a"/>
<polygon points="173.8,169.6 176.4,171 181.8,165.5 179.2,164.1" fill="#0a0667" stroke="#0a0667"/>
<polygon points="34.7,168.5 37,166.3 43.2,161.1 40.9,163.5" fill="#963061" stroke="#963061"/>
<polygon points="119.5,125.9 122.1,133 127.7,134.2 125.2,127.3" fill="#b15446" stroke="#b15446"/>
<polygon points="126.6,165 129.1,166.7 134.8,162.6 132.2,162.4" fill="#88206e" stroke="#88206e"/>
<polygon points="176.4,171 179,172.2 184.4,166.7 181.8,165.5" fill="#0a0667" stroke="#0a0667"/>
<polygon points="147.7,163.4 150.3,164.2 155.8,160.2 153.2,160.4" fill="#b15446" stroke="#b15446"/>
<polygon points="56.3,141.6 58.7,135.1 64.7,129.9 62.4,136.4" fill="#831c72" stroke="#831c72"/>
<polygon points="75.4,110.8 77.9,105.4 83.7,95.9 81.4,106.4" fill="#88206e" stroke="#88206e"/>
<polygon points="116.2,49.6 118.7,50.2 124.4,43.2 121.9,41.6" fill="#76117a" stroke="#76117a"/>
<polygon points="124,157.4 126.6,165 132.2,162.4 129.7,155.9" fill="#88206e" stroke="#88206e"/>
<polygon points="118.7,50.2 121.3,52.2 127,48.5 124.4,43.2" fill="#76117a" stroke="#76117a"/>
<polygon points="179,172.2 181.6,173.2 187,167.8 184.4,166.7" fill="#0a0667" stroke="#0a0667"/>
<polygon points="120.7,68.1 123.3,80.5 128.9,85 126.4,71.5" fill="#902967" stroke="#902967"/>
<polygon points="129.1,166.7 131.7,166.6 137.4,162.6 134.8,162.6" fill="#88206e" stroke="#88206e"/>
<polygon points="150.3,164.2 152.8,165.4 158.3,160.2 155.8,160.2" fill="#b15446" stroke="#b15446"/>
<polygon points="21,173.7 23.5,174.4 29.8,169 27.3,168.4" fill="#b8bf1a" stroke="#b8bf1a"/>
<polygon points="105.3,62.9 107.9,58.2 113.6,51.6 111.1,56.4" fill="#902967" stroke="#902967"/>
<polygon points="116.9,119.2 119.5,125.9 125.2,127.3 122.7,120.5" fill="#b15446" stroke="#b15446"/>
<polygon points="86.1,87.4 88.6,81.1 94.6,87.9 92.2,93.6" fill="#b15446" stroke="#b15446"/>
<polygon points="181.6,173.2 184.3,174.2 189.6,168.8 187,167.8" fill="#0a0667" stroke="#0a0667"/>
<polygon points="37,166.3 39.4,163.1 45.6,157.9 43.2,161.1" fill="#963061" stroke="#963061"/>
<polygon points="117.5,99.2 120.1,112.3 125.8,93.3 123.3,80.5" fill="#0a0667" stroke="#0a0667"/>
<polygon points="152.8,165.4 155.4,166.8 160.9,160.8 158.3,160.2" fill="#b15446" stroke="#b15446"/>
<polygon points="67.1,123 69.4,115.9 75.4,110.8 73.1,117.9" fill="#af5148" stroke="#af5148"/>
<polygon points="47.9,153.5 50.2,148.1 56.3,141.6 54,146.7" fill="#c07a2d" stroke="#c07a2d"/>
<polygon points="131.7,166.6 134.3,166.6 139.9,162.6 137.4,162.6" fill="#88206e" stroke="#88206e"/>
<polygon points="23.5,174.4 26,174.8 32.3,169.4 29.8,169" fill="#b8bf1a" stroke="#b8bf1a"/>
<polygon points="184.3,174.2 186.9,175.1 192.2,169.7 189.6,168.8" fill="#0a0667" stroke="#0a0667"/>
<polygon points="121.5,148.4 124,157.4 129.7,155.9 127.2,147.5" fill="#88206e" stroke="#88206e"/>
<polygon points="155.4,166.8 158,168.3 163.5,162.1 160.9,160.8" fill="#b15446" stroke="#b15446"/>
<polygon points="114.3,112 116.9,119.2 122.7,120.5 120.1,112.3" fill="#b15446" stroke="#b15446"/>
<polygon points="158,168.3 160.6,170 166.1,163.9 163.5,162.1" fill="#b15446" stroke="#b15446"/>
<polygon points="97,74.1 99.5,67.3 105.3,62.9 102.9,72.3" fill="#0a0667" stroke="#0a0667"/>
<polygon points="134.3,166.6 136.9,166.8 142.5,162.7 139.9,162.6" fill="#88206e" stroke="#88206e"/>
<polygon points="26,174.8 28.4,175.1 34.7,168.5 32.3,169.4" fill="#b8bf1a" stroke="#b8bf1a"/>
<polygon points="160.6,170 163.2,171.7 168.7,166 166.1,163.9" fill="#b15446" stroke="#b15446"/>
<polygon points="107.9,58.2 110.4,56.3 116.2,49.6 113.6,51.6" fill="#902967" stroke="#902967"/>
<polygon points="58.7,135.1 61,128.2 67.1,123 64.7,129.9" fill="#831c72" stroke="#831c72"/>
<polygon points="163.2,171.7 165.8,173.3 171.2,167.9 168.7,166" fill="#b15446" stroke="#b15446"/>
<polygon points="118.1,60.3 120.7,68.1 126.4,71.5 123.9,59.1" fill="#902967" stroke="#902967"/>
<polygon points="77.9,105.4 80.3,100.9 86.1,87.4 83.7,95.9" fill="#88206e" stroke="#88206e"/>
<polygon points="118.9,141.1 121.5,148.4 127.2,147.5 124.6,140.3" fill="#88206e" stroke="#88206e"/>
<polygon points="39.4,163.1 41.7,159.4 47.9,153.5 45.6,157.9" fill="#963061" stroke="#963061"/>
<polygon points="136.9,166.8 139.5,167.2 145.1,162.9 142.5,162.7" fill="#88206e" stroke="#88206e"/>
<polygon points="165.8,173.3 168.4,174.8 173.8,169.6 171.2,167.9" fill="#b15446" stroke="#b15446"/>
<polygon points="28.4,175.1 30.9,175 37,166.3 34.7,168.5" fill="#b8bf1a" stroke="#b8bf1a"/>
<polygon points="110.4,56.3 113,56.7 118.7,50.2 116.2,49.6" fill="#902967" stroke="#902967"/>
<polygon points="168.4,174.8 171,176.2 176.4,171 173.8,169.6" fill="#b15446" stroke="#b15446"/>
<polygon points="139.5,167.2 142.1,167.9 147.7,163.4 145.1,162.9" fill="#88206e" stroke="#88206e"/>
<polygon points="88.6,81.1 91.1,77.8 97,74.1 94.6,87.9" fill="#b15446" stroke="#b15446"/>
<polygon points="50.2,148.1 52.5,141.5 58.7,135.1 56.3,141.6" fill="#c07a2d" stroke="#c07a2d"/>
<polygon points="111.7,102.5 114.3,112 120.1,112.3 117.5,99.2" fill="#b15446" stroke="#b15446"/>
<polygon points="69.4,115.9 71.8,110.4 77.9,105.4 75.4,110.8" fill="#af5148" stroke="#af5148"/>
<polygon points="115.5,58.2 118.1,60.3 123.9,59.1 121.3,52.2" fill="#902967" stroke="#902967"/>
<polygon points="114.9,84.6 117.5,99.2 123.3,80.5 120.7,68.1" fill="#0a0667" stroke="#0a0667"/>
<polygon points="113,56.7 115.5,58.2 121.3,52.2 118.7,50.2" fill="#902967" stroke="#902967"/>
<polygon points="171,176.2 173.6,177.4 179,172.2 176.4,171" fill="#b15446" stroke="#b15446"/>
<polygon points="116.3,133.6 118.9,141.1 124.6,140.3 122.1,133" fill="#88206e" stroke="#88206e"/>
<polygon points="142.1,167.9 144.7,168.9 150.3,164.2 147.7,163.4" fill="#88206e" stroke="#88206e"/>
<polygon points="173.6,177.4 176.2,178.5 181.6,173.2 179,172.2" fill="#b15446" stroke="#b15446"/>
<polygon points="99.5,67.3 102,63.6 107.9,58.2 105.3,62.9" fill="#0a0667" stroke="#0a0667"/>
<polygon points="30.9,175 33.3,174.1 39.4,163.1 37,166.3" fill="#b8bf1a" stroke="#b8bf1a"/>
<polygon points="144.7,168.9 147.3,170.1 152.8,165.4 150.3,164.2" fill="#88206e" stroke="#88206e"/>
<polygon points="176.2,178.5 178.9,179.5 184.3,174.2 181.6,173.2" fill="#b15446" stroke="#b15446"/>
<polygon points="41.7,159.4 44.1,155.4 50.2,148.1 47.9,153.5" fill="#963061" stroke="#963061"/>
<polygon points="80.3,100.9 82.7,96.3 88.6,81.1 86.1,87.4" fill="#88206e" stroke="#88206e"/>
<polygon points="123.4,167 126,170.6 131.7,166.6 129.1,166.7" fill="#af5148" stroke="#af5148"/>
<polygon points="120.9,160 123.4,167 129.1,166.7 126.6,165" fill="#af5148" stroke="#af5148"/>
<polygon points="147.3,170.1 149.9,171.6 155.4,166.8 152.8,165.4" fill="#88206e" stroke="#88206e"/>
<polygon points="61,128.2 63.3,121.1 69.4,115.9 67.1,123" fill="#831c72" stroke="#831c72"/>
<polygon points="113.7,126.4 116.3,133.6 122.1,133 119.5,125.9" fill="#88206e" stroke="#88206e"/>
<polygon points="178.9,179.5 181.5,180.5 186.9,175.1 184.3,174.2" fill="#b15446" stroke="#b15446"/>
<polygon points="149.9,171.6 152.5,173.3 158,168.3 155.4,166.8" fill="#88206e" stroke="#88206e"/>
<polygon points="126,170.6 128.6,170.8 134.3,166.6 131.7,166.6" fill="#af5148" stroke="#af5148"/>
<polygon points="71.8,110.4 74.3,105.9 80.3,100.9 77.9,105.4" fill="#af5148" stroke="#af5148"/>
<polygon points="33.3,174.1 35.8,172.7 41.7,159.4 39.4,163.1" fill="#b8bf1a" stroke="#b8bf1a"/>
<polygon points="152.5,173.3 155.1,175 160.6,170 158,168.3" fill="#88206e" stroke="#88206e"/>
<polygon points="102,63.6 104.6,62.7 110.4,56.3 107.9,58.2" fill="#0a0667" stroke="#0a0667"/>
<polygon points="118.3,151.8 120.9,160 126.6,165 124,157.4" fill="#af5148" stroke="#af5148"/>
<polygon points="109.1,91.8 111.7,102.5 117.5,99.2 114.9,84.6" fill="#b15446" stroke="#b15446"/>
<polygon points="91.1,77.8 93.6,75.4 99.5,67.3 97,74.1" fill="#b15446" stroke="#b15446"/>
<polygon points="112.3,71.7 114.9,84.6 120.7,68.1 118.1,60.3" fill="#0a0667" stroke="#0a0667"/>
<polygon points="155.1,175 157.7,176.7 163.2,171.7 160.6,170" fill="#88206e" stroke="#88206e"/>
<polygon points="111.1,119.3 113.7,126.4 119.5,125.9 116.9,119.2" fill="#88206e" stroke="#88206e"/>
<polygon points="52.5,141.5 54.8,133.7 61,128.2 58.7,135.1" fill="#c07a2d" stroke="#c07a2d"/>
<polygon points="128.6,170.8 131.2,171.1 136.9,166.8 134.3,166.6" fill="#af5148" stroke="#af5148"/>
<polygon points="157.7,176.7 160.3,178.4 165.8,173.3 163.2,171.7" fill="#88206e" stroke="#88206e"/>
<polygon points="104.6,62.7 107.1,63.8 113,56.7 110.4,56.3" fill="#0a0667" stroke="#0a0667"/>
<polygon points="160.3,178.4 162.9,179.9 168.4,174.8 165.8,173.3" fill="#88206e" stroke="#88206e"/>
<polygon points="44.1,155.4 46.4,150.7 52.5,141.5 50.2,148.1" fill="#963061" stroke="#963061"/>
<polygon points="131.2,171.1 133.8,171.7 139.5,167.2 136.9,166.8" fill="#af5148" stroke="#af5148"/>
<polygon points="107.1,63.8 109.7,65.7 115.5,58.2 113,56.7" fill="#0a0667" stroke="#0a0667"/>
<polygon points="109.7,65.7 112.3,71.7 118.1,60.3 115.5,58.2" fill="#0a0667" stroke="#0a0667"/>
<polygon points="115.7,144.8 118.3,151.8 124,157.4 121.5,148.4" fill="#af5148" stroke="#af5148"/>
<polygon points="108.5,112.3 111.1,119.3 116.9,119.2 114.3,112" fill="#88206e" stroke="#88206e"/>
<polygon points="82.7,96.3 85.2,87.6 91.1,77.8 88.6,81.1" fill="#88206e" stroke="#88206e"/>
<polygon points="162.9,179.9 165.5,181.4 171,176.2 168.4,174.8" fill="#88206e" stroke="#88206e"/>
<polygon points="35.8,172.7 38.2,170.9 44.1,155.4 41.7,159.4" fill="#b8bf1a" stroke="#b8bf1a"/>
<polygon points="63.3,121.1 65.7,115.6 71.8,110.4 69.4,115.9" fill="#831c72" stroke="#831c72"/>
<polygon points="74.3,105.9 76.7,102.8 82.7,96.3 80.3,100.9" fill="#af5148" stroke="#af5148"/>
<polygon points="133.8,171.7 136.4,172.5 142.1,167.9 139.5,167.2" fill="#af5148" stroke="#af5148"/>
<polygon points="93.6,75.4 96.1,74.1 102,63.6 99.5,67.3" fill="#b15446" stroke="#b15446"/>
<polygon points="165.5,181.4 168.2,182.6 173.6,177.4 171,176.2" fill="#88206e" stroke="#88206e"/>
<polygon points="168.2,182.6 170.8,183.8 176.2,178.5 173.6,177.4" fill="#88206e" stroke="#88206e"/>
<polygon points="136.4,172.5 139,173.7 144.7,168.9 142.1,167.9" fill="#af5148" stroke="#af5148"/>
<polygon points="106.5,82.9 109.1,91.8 114.9,84.6 112.3,71.7" fill="#b15446" stroke="#b15446"/>
<polygon points="113,138.5 115.7,144.8 121.5,148.4 118.9,141.1" fill="#af5148" stroke="#af5148"/>
<polygon points="105.9,105.5 108.5,112.3 114.3,112 111.7,102.5" fill="#88206e" stroke="#88206e"/>
<polygon points="139,173.7 141.6,175.1 147.3,170.1 144.7,168.9" fill="#af5148" stroke="#af5148"/>
<polygon points="170.8,183.8 173.4,184.9 178.9,179.5 176.2,178.5" fill="#88206e" stroke="#88206e"/>
<polygon points="96.1,74.1 98.7,73.8 104.6,62.7 102,63.6" fill="#b15446" stroke="#b15446"/>
<polygon points="38.2,170.9 40.6,168.7 46.4,150.7 44.1,155.4" fill="#b8bf1a" stroke="#b8bf1a"/>
<polygon points="54.8,133.7 57.1,125.9 63.3,121.1 61,128.2" fill="#c07a2d" stroke="#c07a2d"/>
<polygon points="141.6,175.1 144.2,176.8 149.9,171.6 147.3,170.1" fill="#af5148" stroke="#af5148"/>
<polygon points="85.2,87.6 87.7,83.3 93.6,75.4 91.1,77.8" fill="#88206e" stroke="#88206e"/>
<polygon points="173.4,184.9 176.1,185.9 181.5,180.5 178.9,179.5" fill="#88206e" stroke="#88206e"/>
<polygon points="110.4,132 113,138.5 118.9,141.1 116.3,133.6" fill="#af5148" stroke="#af5148"/>
<polygon points="46.4,150.7 48.8,144.5 54.8,133.7 52.5,141.5" fill="#963061" stroke="#963061"/>
<polygon points="144.2,176.8 146.9,178.5 152.5,173.3 149.9,171.6" fill="#af5148" stroke="#af5148"/>
<polygon points="76.7,102.8 79.3,101.1 85.2,87.6 82.7,96.3" fill="#af5148" stroke="#af5148"/>
<polygon points="98.7,73.8 101.3,74.7 107.1,63.8 104.6,62.7" fill="#b15446" stroke="#b15446"/>
<polygon points="65.7,115.6 68.2,111.1 74.3,105.9 71.8,110.4" fill="#831c72" stroke="#831c72"/>
<polygon points="117.6,170.3 120.2,174 126,170.6 123.4,167" fill="#831c72" stroke="#831c72"/>
<polygon points="103.9,76.8 106.5,82.9 112.3,71.7 109.7,65.7" fill="#b15446" stroke="#b15446"/>
<polygon points="146.9,178.5 149.5,180.3 155.1,175 152.5,173.3" fill="#af5148" stroke="#af5148"/>
<polygon points="103.2,98.8 105.9,105.5 111.7,102.5 109.1,91.8" fill="#88206e" stroke="#88206e"/>
<polygon points="120.2,174 122.8,174.5 128.6,170.8 126,170.6" fill="#831c72" stroke="#831c72"/>
<polygon points="101.3,74.7 103.9,76.8 109.7,65.7 107.1,63.8" fill="#b15446" stroke="#b15446"/>
<polygon points="149.5,180.3 152.1,182.1 157.7,176.7 155.1,175" fill="#af5148" stroke="#af5148"/>
<polygon points="115,163.9 117.6,170.3 123.4,167 120.9,160" fill="#831c72" stroke="#831c72"/>
<polygon points="152.1,182.1 154.7,183.8 160.3,178.4 157.7,176.7" fill="#af5148" stroke="#af5148"/>
<polygon points="107.8,124.9 110.4,132 116.3,133.6 113.7,126.4" fill="#af5148" stroke="#af5148"/>
<polygon points="122.8,174.5 125.5,175.1 131.2,171.1 128.6,170.8" fill="#831c72" stroke="#831c72"/>
<polygon points="87.7,83.3 90.2,80.6 96.1,74.1 93.6,75.4" fill="#88206e" stroke="#88206e"/>
<polygon points="154.7,183.8 157.3,185.4 162.9,179.9 160.3,178.4" fill="#af5148" stroke="#af5148"/>
<polygon points="40.6,168.7 43,165 48.8,144.5 46.4,150.7" fill="#b8bf1a" stroke="#b8bf1a"/>
<polygon points="100.6,92.3 103.2,98.8 109.1,91.8 106.5,82.9" fill="#88206e" stroke="#88206e"/>
<polygon points="157.3,185.4 160,186.8 165.5,181.4 162.9,179.9" fill="#af5148" stroke="#af5148"/>
<polygon points="125.5,175.1 128.1,176 133.8,171.7 131.2,171.1" fill="#831c72" stroke="#831c72"/>
<polygon points="68.2,111.1 70.6,108 76.7,102.8 74.3,105.9" fill="#831c72" stroke="#831c72"/>
<polygon points="112.4,156 115,163.9 120.9,160 118.3,151.8" fill="#831c72" stroke="#831c72"/>
<polygon points="57.1,125.9 59.5,119.1 65.7,115.6 63.3,121.1" fill="#c07a2d" stroke="#c07a2d"/>
<polygon points="105.2,117.1 107.8,124.9 113.7,126.4 111.1,119.3" fill="#af5148" stroke="#af5148"/>
<polygon points="160,186.8 162.6,188.1 168.2,182.6 165.5,181.4" fill="#af5148" stroke="#af5148"/>
<polygon points="79.3,101.1 81.7,93.8 87.7,83.3 85.2,87.6" fill="#af5148" stroke="#af5148"/>
<polygon points="90.2,80.6 92.7,79.8 98.7,73.8 96.1,74.1" fill="#88206e" stroke="#88206e"/>
<polygon points="128.1,176 130.7,177.2 136.4,172.5 133.8,171.7" fill="#831c72" stroke="#831c72"/>
<polygon points="48.8,144.5 51.1,138.3 57.1,125.9 54.8,133.7" fill="#963061" stroke="#963061"/>
<polygon points="162.6,188.1 165.3,189.3 170.8,183.8 168.2,182.6" fill="#af5148" stroke="#af5148"/>
<polygon points="98,86.2 100.6,92.3 106.5,82.9 103.9,76.8" fill="#88206e" stroke="#88206e"/>
<polygon points="130.7,177.2 133.3,178.7 139,173.7 136.4,172.5" fill="#831c72" stroke="#831c72"/>
<polygon points="92.7,79.8 95.3,81.3 101.3,74.7 98.7,73.8" fill="#88206e" stroke="#88206e"/>
<polygon points="109.8,148.4 112.4,156 118.3,151.8 115.7,144.8" fill="#831c72" stroke="#831c72"/>
<polygon points="95.3,81.3 98,86.2 103.9,76.8 101.3,74.7" fill="#88206e" stroke="#88206e"/>
<polygon points="165.3,189.3 167.9,190.4 173.4,184.9 170.8,183.8" fill="#af5148" stroke="#af5148"/>
<polygon points="133.3,178.7 135.9,180.3 141.6,175.1 139,173.7" fill="#831c72" stroke="#831c72"/>
<polygon points="102.5,109.7 105.2,117.1 111.1,119.3 108.5,112.3" fill="#af5148" stroke="#af5148"/>
<polygon points="70.6,108 73.1,104 79.3,101.1 76.7,102.8" fill="#831c72" stroke="#831c72"/>
<polygon points="43,165 45.3,160.2 51.1,138.3 48.8,144.5" fill="#b8bf1a" stroke="#b8bf1a"/>
<polygon points="135.9,180.3 138.5,182.2 144.2,176.8 141.6,175.1" fill="#831c72" stroke="#831c72"/>
<polygon points="167.9,190.4 170.6,191.4 176.1,185.9 173.4,184.9" fill="#af5148" stroke="#af5148"/>
<polygon points="138.5,182.2 141.2,184 146.9,178.5 144.2,176.8" fill="#831c72" stroke="#831c72"/>
<polygon points="107.1,142.1 109.8,148.4 115.7,144.8 113,138.5" fill="#831c72" stroke="#831c72"/>
<polygon points="81.7,93.8 84.2,89.8 90.2,80.6 87.7,83.3" fill="#af5148" stroke="#af5148"/>
<polygon points="141.2,184 143.8,185.9 149.5,180.3 146.9,178.5" fill="#831c72" stroke="#831c72"/>
<polygon points="59.5,119.1 61.9,113.8 68.2,111.1 65.7,115.6" fill="#c07a2d" stroke="#c07a2d"/>
<polygon points="99.9,102.4 102.5,109.7 108.5,112.3 105.9,105.5" fill="#af5148" stroke="#af5148"/>
<polygon points="143.8,185.9 146.4,187.7 152.1,182.1 149.5,180.3" fill="#831c72" stroke="#831c72"/>
<polygon points="109.2,173.6 111.8,173.2 117.6,170.3 115,163.9" fill="#c07a2d" stroke="#c07a2d"/>
<polygon points="106.6,174.2 109.2,173.6 115,163.9 112.4,156" fill="#c07a2d" stroke="#c07a2d"/>
<polygon points="146.4,187.7 149.1,189.4 154.7,183.8 152.1,182.1" fill="#831c72" stroke="#831c72"/>
<polygon points="111.8,173.2 114.4,173.2 120.2,174 117.6,170.3" fill="#c07a2d" stroke="#c07a2d"/>
<polygon points="104.5,136 107.1,142.1 113,138.5 110.4,132" fill="#831c72" stroke="#831c72"/>
<polygon points="104,173.4 106.6,174.2 112.4,156 109.8,148.4" fill="#c07a2d" stroke="#c07a2d"/>
<polygon points="51.1,138.3 53.5,132.1 59.5,119.1 57.1,125.9" fill="#963061" stroke="#963061"/>
<polygon points="149.1,189.4 151.7,191 157.3,185.4 154.7,183.8" fill="#831c72" stroke="#831c72"/>
<polygon points="97.2,95.3 99.9,102.4 105.9,105.5 103.2,98.8" fill="#af5148" stroke="#af5148"/>
<polygon points="73.1,104 75.6,98.9 81.7,93.8 79.3,101.1" fill="#831c72" stroke="#831c72"/>
<polygon points="114.4,173.2 117,173.7 122.8,174.5 120.2,174" fill="#c07a2d" stroke="#c07a2d"/>
<polygon points="84.2,89.8 86.7,87.6 92.7,79.8 90.2,80.6" fill="#af5148" stroke="#af5148"/>
<polygon points="151.7,191 154.4,192.4 160,186.8 157.3,185.4" fill="#831c72" stroke="#831c72"/>
<polygon points="45.3,160.2 47.7,155.4 53.5,132.1 51.1,138.3" fill="#b8bf1a" stroke="#b8bf1a"/>
<polygon points="101.3,164.3 104,173.4 109.8,148.4 107.1,142.1" fill="#c07a2d" stroke="#c07a2d"/>
<polygon points="101.8,129.8 104.5,136 110.4,132 107.8,124.9" fill="#831c72" stroke="#831c72"/>
<polygon points="117,173.7 119.6,174.8 125.5,175.1 122.8,174.5" fill="#c07a2d" stroke="#c07a2d"/>
<polygon points="154.4,192.4 157,193.7 162.6,188.1 160,186.8" fill="#831c72" stroke="#831c72"/>
<polygon points="61.9,113.8 64.4,109.9 70.6,108 68.2,111.1" fill="#c07a2d" stroke="#c07a2d"/>
<polygon points="94.5,90.4 97.2,95.3 103.2,98.8 100.6,92.3" fill="#af5148" stroke="#af5148"/>
<polygon points="86.7,87.6 89.3,87.3 95.3,81.3 92.7,79.8" fill="#af5148" stroke="#af5148"/>
<polygon points="119.6,174.8 122.2,176.4 128.1,176 125.5,175.1" fill="#c07a2d" stroke="#c07a2d"/>
<polygon points="157,193.7 159.7,194.9 165.3,189.3 162.6,188.1" fill="#831c72" stroke="#831c72"/>
<polygon points="91.9,88.4 94.5,90.4 100.6,92.3 98,86.2" fill="#af5148" stroke="#af5148"/>
<polygon points="89.3,87.3 91.9,88.4 98,86.2 95.3,81.3" fill="#af5148" stroke="#af5148"/>
<polygon points="99.2,123.8 101.8,129.8 107.8,124.9 105.2,117.1" fill="#831c72" stroke="#831c72"/>
<polygon points="122.2,176.4 124.9,178.5 130.7,177.2 128.1,176" fill="#c07a2d" stroke="#c07a2d"/>
<polygon points="159.7,194.9 162.3,196 167.9,190.4 165.3,189.3" fill="#831c72" stroke="#831c72"/>
<polygon points="98.6,154.8 101.3,164.3 107.1,142.1 104.5,136" fill="#c07a2d" stroke="#c07a2d"/>
<polygon points="124.9,178.5 127.5,180.8 133.3,178.7 130.7,177.2" fill="#c07a2d" stroke="#c07a2d"/>
<polygon points="75.6,98.9 78.1,95.9 84.2,89.8 81.7,93.8" fill="#831c72" stroke="#831c72"/>
<polygon points="53.5,132.1 55.9,127.3 61.9,113.8 59.5,119.1" fill="#963061" stroke="#963061"/>
<polygon points="127.5,180.8 130.1,183.4 135.9,180.3 133.3,178.7" fill="#c07a2d" stroke="#c07a2d"/>
<polygon points="162.3,196 165,197 170.6,191.4 167.9,190.4" fill="#831c72" stroke="#831c72"/>
<polygon points="64.4,109.9 66.9,107.8 73.1,104 70.6,108" fill="#c07a2d" stroke="#c07a2d"/>
<polygon points="130.1,183.4 132.8,186 138.5,182.2 135.9,180.3" fill="#c07a2d" stroke="#c07a2d"/>
<polygon points="96.5,117.7 99.2,123.8 105.2,117.1 102.5,109.7" fill="#831c72" stroke="#831c72"/>
<polygon points="47.7,155.4 50.1,151.1 55.9,127.3 53.5,132.1" fill="#b8bf1a" stroke="#b8bf1a"/>
<polygon points="132.8,186 135.4,188.6 141.2,184 138.5,182.2" fill="#c07a2d" stroke="#c07a2d"/>
<polygon points="135.4,188.6 138.1,191 143.8,185.9 141.2,184" fill="#c07a2d" stroke="#c07a2d"/>
<polygon points="95.9,146.3 98.6,154.8 104.5,136 101.8,129.8" fill="#c07a2d" stroke="#c07a2d"/>
<polygon points="138.1,191 140.7,193.2 146.4,187.7 143.8,185.9" fill="#c07a2d" stroke="#c07a2d"/>
<polygon points="93.9,111.8 96.5,117.7 102.5,109.7 99.9,102.4" fill="#831c72" stroke="#831c72"/>
<polygon points="140.7,193.2 143.3,195.1 149.1,189.4 146.4,187.7" fill="#c07a2d" stroke="#c07a2d"/>
<polygon points="78.1,95.9 80.7,94.4 86.7,87.6 84.2,89.8" fill="#831c72" stroke="#831c72"/>
<polygon points="143.3,195.1 146,196.8 151.7,191 149.1,189.4" fill="#c07a2d" stroke="#c07a2d"/>
<polygon points="55.9,127.3 58.3,123.3 64.4,109.9 61.9,113.8" fill="#963061" stroke="#963061"/>
<polygon points="66.9,107.8 69.4,106.2 75.6,98.9 73.1,104" fill="#c07a2d" stroke="#c07a2d"/>
<polygon points="93.2,137.7 95.9,146.3 101.8,129.8 99.2,123.8" fill="#c07a2d" stroke="#c07a2d"/>
<polygon points="100.4,162 103.1,168.8 109.2,173.6 106.6,174.2" fill="#963061" stroke="#963061"/>
<polygon points="103.1,168.8 105.8,174.9 111.8,173.2 109.2,173.6" fill="#963061" stroke="#963061"/>
<polygon points="146,196.8 148.7,198.3 154.4,192.4 151.7,191" fill="#c07a2d" stroke="#c07a2d"/>
<polygon points="97.8,155.4 100.4,162 106.6,174.2 104,173.4" fill="#963061" stroke="#963061"/>
<polygon points="105.8,174.9 108.4,179.3 114.4,173.2 111.8,173.2" fill="#963061" stroke="#963061"/>
<polygon points="91.2,106.4 93.9,111.8 99.9,102.4 97.2,95.3" fill="#831c72" stroke="#831c72"/>
<polygon points="50.1,151.1 52.5,146.8 58.3,123.3 55.9,127.3" fill="#b8bf1a" stroke="#b8bf1a"/>
<polygon points="108.4,179.3 111.1,182.7 117,173.7 114.4,173.2" fill="#963061" stroke="#963061"/>
<polygon points="80.7,94.4 83.2,94.2 89.3,87.3 86.7,87.6" fill="#831c72" stroke="#831c72"/>
<polygon points="148.7,198.3 151.3,199.7 157,193.7 154.4,192.4" fill="#c07a2d" stroke="#c07a2d"/>
<polygon points="111.1,182.7 113.7,185.6 119.6,174.8 117,173.7" fill="#963061" stroke="#963061"/>
<polygon points="88.5,101 91.2,106.4 97.2,95.3 94.5,90.4" fill="#831c72" stroke="#831c72"/>
<polygon points="95.1,148.4 97.8,155.4 104,173.4 101.3,164.3" fill="#963061" stroke="#963061"/>
<polygon points="113.7,185.6 116.3,188.1 122.2,176.4 119.6,174.8" fill="#963061" stroke="#963061"/>
<polygon points="151.3,199.7 154,200.8 159.7,194.9 157,193.7" fill="#c07a2d" stroke="#c07a2d"/>
<polygon points="83.2,94.2 85.9,96.6 91.9,88.4 89.3,87.3" fill="#831c72" stroke="#831c72"/>
<polygon points="90.5,128.7 93.2,137.7 99.2,123.8 96.5,117.7" fill="#c07a2d" stroke="#c07a2d"/>
<polygon points="85.9,96.6 88.5,101 94.5,90.4 91.9,88.4" fill="#831c72" stroke="#831c72"/>
<polygon points="116.3,188.1 119,190.5 124.9,178.5 122.2,176.4" fill="#963061" stroke="#963061"/>
<polygon points="69.4,106.2 72,105.1 78.1,95.9 75.6,98.9" fill="#c07a2d" stroke="#c07a2d"/>
<polygon points="119,190.5 121.6,192.8 127.5,180.8 124.9,178.5" fill="#963061" stroke="#963061"/>
<polygon points="58.3,123.3 60.8,120.3 66.9,107.8 64.4,109.9" fill="#963061" stroke="#963061"/>
<polygon points="154,200.8 156.7,201.9 162.3,196 159.7,194.9" fill="#c07a2d" stroke="#c07a2d"/>
<polygon points="121.6,192.8 124.3,195 130.1,183.4 127.5,180.8" fill="#963061" stroke="#963061"/>
<polygon points="124.3,195 126.9,197 132.8,186 130.1,183.4" fill="#963061" stroke="#963061"/>
<polygon points="126.9,197 129.6,199 135.4,188.6 132.8,186" fill="#963061" stroke="#963061"/>
<polygon points="156.7,201.9 159.3,202.9 165,197 162.3,196" fill="#c07a2d" stroke="#c07a2d"/>
<polygon points="52.5,146.8 54.9,142.4 60.8,120.3 58.3,123.3" fill="#b8bf1a" stroke="#b8bf1a"/>
<polygon points="87.8,120.5 90.5,128.7 96.5,117.7 93.9,111.8" fill="#c07a2d" stroke="#c07a2d"/>
<polygon points="92.4,141.8 95.1,148.4 101.3,164.3 98.6,154.8" fill="#963061" stroke="#963061"/>
<polygon points="129.6,199 132.2,200.6 138.1,191 135.4,188.6" fill="#963061" stroke="#963061"/>
<polygon points="132.2,200.6 134.9,202 140.7,193.2 138.1,191" fill="#963061" stroke="#963061"/>
<polygon points="72,105.1 74.6,104.5 80.7,94.4 78.1,95.9" fill="#c07a2d" stroke="#c07a2d"/>
<polygon points="60.8,120.3 63.3,118.7 69.4,106.2 66.9,107.8" fill="#963061" stroke="#963061"/>
<polygon points="134.9,202 137.5,203.4 143.3,195.1 140.7,193.2" fill="#963061" stroke="#963061"/>
<polygon points="85.1,114.1 87.8,120.5 93.9,111.8 91.2,106.4" fill="#c07a2d" stroke="#c07a2d"/>
<polygon points="137.5,203.4 140.2,204.5 146,196.8 143.3,195.1" fill="#963061" stroke="#963061"/>
<polygon points="89.7,135.9 92.4,141.8 98.6,154.8 95.9,146.3" fill="#963061" stroke="#963061"/>
<polygon points="74.6,104.5 77.2,104.6 83.2,94.2 80.7,94.4" fill="#c07a2d" stroke="#c07a2d"/>
<polygon points="82.4,109.2 85.1,114.1 91.2,106.4 88.5,101" fill="#c07a2d" stroke="#c07a2d"/>
<polygon points="140.2,204.5 142.9,205.4 148.7,198.3 146,196.8" fill="#963061" stroke="#963061"/>
<polygon points="54.9,142.4 57.4,137.6 63.3,118.7 60.8,120.3" fill="#b8bf1a" stroke="#b8bf1a"/>
<polygon points="63.3,118.7 65.9,117.4 72,105.1 69.4,106.2" fill="#963061" stroke="#963061"/>
<polygon points="77.2,104.6 79.8,105.6 85.9,96.6 83.2,94.2" fill="#c07a2d" stroke="#c07a2d"/>
<polygon points="79.8,105.6 82.4,109.2 88.5,101 85.9,96.6" fill="#c07a2d" stroke="#c07a2d"/>
<polygon points="142.9,205.4 145.6,206.3 151.3,199.7 148.7,198.3" fill="#963061" stroke="#963061"/>
<polygon points="87,130.5 89.7,135.9 95.9,146.3 93.2,137.7" fill="#963061" stroke="#963061"/>
<polygon points="102.4,182.6 105.1,185.2 111.1,182.7 108.4,179.3" fill="#b8bf1a" stroke="#b8bf1a"/>
<polygon points="99.7,180.5 102.4,182.6 108.4,179.3 105.8,174.9" fill="#b8bf1a" stroke="#b8bf1a"/>
<polygon points="105.1,185.2 107.7,188.4 113.7,185.6 111.1,182.7" fill="#b8bf1a" stroke="#b8bf1a"/>
<polygon points="107.7,188.4 110.4,191.5 116.3,188.1 113.7,185.6" fill="#b8bf1a" stroke="#b8bf1a"/>
<polygon points="110.4,191.5 113,194 119,190.5 116.3,188.1" fill="#b8bf1a" stroke="#b8bf1a"/>
<polygon points="97.1,178.5 99.7,180.5 105.8,174.9 103.1,168.8" fill="#b8bf1a" stroke="#b8bf1a"/>
<polygon points="145.6,206.3 148.2,207.1 154,200.8 151.3,199.7" fill="#963061" stroke="#963061"/>
<polygon points="113,194 115.7,195.8 121.6,192.8 119,190.5" fill="#b8bf1a" stroke="#b8bf1a"/>
<polygon points="94.4,176.3 97.1,178.5 103.1,168.8 100.4,162" fill="#b8bf1a" stroke="#b8bf1a"/>
<polygon points="65.9,117.4 68.5,116.5 74.6,104.5 72,105.1" fill="#963061" stroke="#963061"/>
<polygon points="115.7,195.8 118.3,197.4 124.3,195 121.6,192.8" fill="#b8bf1a" stroke="#b8bf1a"/>
<polygon points="91.8,173.9 94.4,176.3 100.4,162 97.8,155.4" fill="#b8bf1a" stroke="#b8bf1a"/>
<polygon points="148.2,207.1 150.9,208 156.7,201.9 154,200.8" fill="#963061" stroke="#963061"/>
<polygon points="57.4,137.6 59.8,133.2 65.9,117.4 63.3,118.7" fill="#b8bf1a" stroke="#b8bf1a"/>
<polygon points="84.3,126.1 87,130.5 93.2,137.7 90.5,128.7" fill="#963061" stroke="#963061"/>
<polygon points="118.3,197.4 121,198.8 126.9,197 124.3,195" fill="#b8bf1a" stroke="#b8bf1a"/>
<polygon points="89.1,171.2 91.8,173.9 97.8,155.4 95.1,148.4" fill="#b8bf1a" stroke="#b8bf1a"/>
<polygon points="121,198.8 123.7,200.2 129.6,199 126.9,197" fill="#b8bf1a" stroke="#b8bf1a"/>
<polygon points="68.5,116.5 71,116 77.2,104.6 74.6,104.5" fill="#963061" stroke="#963061"/>
<polygon points="150.9,208 153.6,208.9 159.3,202.9 156.7,201.9" fill="#963061" stroke="#963061"/>
<polygon points="123.7,200.2 126.3,201.6 132.2,200.6 129.6,199" fill="#b8bf1a" stroke="#b8bf1a"/>
<polygon points="81.6,122.1 84.3,126.1 90.5,128.7 87.8,120.5" fill="#963061" stroke="#963061"/>
<polygon points="86.5,167.2 89.1,171.2 95.1,148.4 92.4,141.8" fill="#b8bf1a" stroke="#b8bf1a"/>
<polygon points="71,116 73.7,116.3 79.8,105.6 77.2,104.6" fill="#963061" stroke="#963061"/>
<polygon points="126.3,201.6 129,203 134.9,202 132.2,200.6" fill="#b8bf1a" stroke="#b8bf1a"/>
<polygon points="59.8,133.2 62.3,129.7 68.5,116.5 65.9,117.4" fill="#b8bf1a" stroke="#b8bf1a"/>
<polygon points="78.9,119.2 81.6,122.1 87.8,120.5 85.1,114.1" fill="#963061" stroke="#963061"/>
<polygon points="83.8,161.2 86.5,167.2 92.4,141.8 89.7,135.9" fill="#b8bf1a" stroke="#b8bf1a"/>
<polygon points="73.7,116.3 76.3,117.4 82.4,109.2 79.8,105.6" fill="#963061" stroke="#963061"/>
<polygon points="129,203 131.7,204.4 137.5,203.4 134.9,202" fill="#b8bf1a" stroke="#b8bf1a"/>
<polygon points="76.3,117.4 78.9,119.2 85.1,114.1 82.4,109.2" fill="#963061" stroke="#963061"/>
<polygon points="131.7,204.4 134.4,205.8 140.2,204.5 137.5,203.4" fill="#b8bf1a" stroke="#b8bf1a"/>
<polygon points="81.1,154.8 83.8,161.2 89.7,135.9 87,130.5" fill="#b8bf1a" stroke="#b8bf1a"/>
<polygon points="134.4,205.8 137.1,207.2 142.9,205.4 140.2,204.5" fill="#b8bf1a" stroke="#b8bf1a"/>
<polygon points="62.3,129.7 64.9,126.3 71,116 68.5,116.5" fill="#b8bf1a" stroke="#b8bf1a"/>
<polygon points="78.3,148.7 81.1,154.8 87,130.5 84.3,126.1" fill="#b8bf1a" stroke="#b8bf1a"/>
<polygon points="137.1,207.2 139.8,208.6 145.6,206.3 142.9,205.4" fill="#b8bf1a" stroke="#b8bf1a"/>
<polygon points="75.6,142.4 78.3,148.7 84.3,126.1 81.6,122.1" fill="#b8bf1a" stroke="#b8bf1a"/>
<polygon points="139.8,208.6 142.5,209.9 148.2,207.1 145.6,206.3" fill="#b8bf1a" stroke="#b8bf1a"/>
<polygon points="64.9,126.3 67.4,124.8 73.7,116.3 71,116" fill="#b8bf1a" stroke="#b8bf1a"/>
<polygon points="72.9,135.5 75.6,142.4 81.6,122.1 78.9,119.2" fill="#b8bf1a" stroke="#b8bf1a"/>
<polygon points="142.5,209.9 145.2,211.3 150.9,208 148.2,207.1" fill="#b8bf1a" stroke="#b8bf1a"/>
<polygon points="70.1,127.8 72.9,135.5 78.9,119.2 76.3,117.4" fill="#b8bf1a" stroke="#b8bf1a"/>
<polygon points="67.4,124.8 70.1,127.8 76.3,117.4 73.7,116.3" fill="#b8bf1a" stroke="#b8bf1a"/>
<polygon points="145.2,211.3 147.9,212.7 153.6,208.9 150.9,208" fill="#b8bf1a" stroke="#b8bf1a"/>
</g>
<g stroke="#000" stroke-width="0.9" fill="none" stroke-linecap="square">
<polyline points="6.4,177.8 153.5,225.8"/>
<polyline points="153.5,225.8 231.6,145.6"/>
<polyline points="231.6,145.6 236.6,37.5"/>
<polyline points="17.2,179.1 13.9,181.9"/>
<polyline points="47.4,188.9 44.2,191.8"/>
<polyline points="78.3,199 75.1,201.9"/>
<polyline points="110,209.3 106.8,212.3"/>
<polyline points="142.3,219.8 139.2,222.9"/>
<polyline points="156.9,219.1 161.4,220.6"/>
<polyline points="162.7,213.3 167.1,214.7"/>
<polyline points="168.3,207.5 172.8,208.9"/>
<polyline points="173.9,201.7 178.4,203.1"/>
<polyline points="179.5,196.1 183.9,197.4"/>
<polyline points="184.9,190.5 189.3,191.8"/>
<polyline points="190.3,185 194.7,186.3"/>
<polyline points="195.7,179.5 200,180.8"/>
<polyline points="200.9,174.1 205.3,175.4"/>
<polyline points="206.1,168.8 210.4,170.1"/>
<polyline points="211.3,163.5 215.6,164.8"/>
<polyline points="216.4,158.3 220.6,159.6"/>
<polyline points="221.4,153.2 225.6,154.5"/>
<polyline points="226.3,148.1 230.6,149.4"/>
<polyline points="230.1,144 234.7,144.5"/>
<polyline points="231,124.7 235.6,125.2"/>
<polyline points="231.9,105.2 236.5,105.7"/>
<polyline points="232.8,85.3 237.4,85.8"/>
<polyline points="233.7,65.1 238.3,65.6"/>
<polyline points="234.6,44.5 239.2,45"/>
</g>
<g font-family='"Liberation Sans", Arial, sans-serif' font-size="7.6" fill="#000" stroke="#000" stroke-width="0.16">
<text x="9.9" y="196.8" text-anchor="middle">0.01</text>
<text x="40.1" y="207" text-anchor="middle">0.1</text>
<text x="70.9" y="217.4" text-anchor="middle">1</text>
<text x="103.2" y="227.7" text-anchor="middle">10</text>
<text x="135.7" y="238.2" text-anchor="middle">100</text>
<text transform="translate(168,233.6) rotate(17.85)" text-anchor="middle" y="2.7">1105</text>
<text transform="translate(173.7,227.7) rotate(17.85)" text-anchor="middle" y="2.7">1101</text>
<text transform="translate(179.2,221.8) rotate(17.85)" text-anchor="middle" y="2.7">1104</text>
<text transform="translate(184.7,216.1) rotate(17.85)" text-anchor="middle" y="2.7">1099</text>
<text transform="translate(190.1,210.4) rotate(17.85)" text-anchor="middle" y="2.7">1097</text>
<text transform="translate(195.4,204.7) rotate(17.85)" text-anchor="middle" y="2.7">1100</text>
<text transform="translate(200.7,199.2) rotate(17.85)" text-anchor="middle" y="2.7">1102</text>
<text transform="translate(205.9,193.7) rotate(17.85)" text-anchor="middle" y="2.7">1109</text>
<text transform="translate(211,188.3) rotate(17.85)" text-anchor="middle" y="2.7">1098</text>
<text transform="translate(216.1,182.9) rotate(17.85)" text-anchor="middle" y="2.7">1107</text>
<text transform="translate(221.1,177.6) rotate(17.85)" text-anchor="middle" y="2.7">1108</text>
<text transform="translate(226,172.4) rotate(17.85)" text-anchor="middle" y="2.7">1106</text>
<text transform="translate(230.9,167.2) rotate(17.85)" text-anchor="middle" y="2.7">1095</text>
<text transform="translate(235.8,162.1) rotate(17.85)" text-anchor="middle" y="2.7">1096</text>
<text x="236.9" y="147.7">0.00</text>
<text x="237.8" y="128.5">0.01</text>
<text x="238.7" y="108.9">0.02</text>
<text x="239.6" y="89">0.03</text>
<text x="240.5" y="68.8">0.04</text>
<text x="241.4" y="48.2">0.05</text>
</g>
<g font-family='"Liberation Sans", Arial, sans-serif' font-size="8.2" fill="#000" stroke="#000" stroke-width="0.16" text-anchor="middle">
<text transform="translate(67.2,224.6) rotate(18.06)" y="2.5"><tspan font-style="italic">T</tspan><tspan font-size="5.74" dy="1.64">2</tspan><tspan dy="-1.64"> relaxation time (ms)</tspan></text>
<text transform="translate(216.1,206.7) rotate(-40)" y="2.5">Sample ID</text>
<text transform="translate(261.6,89.8) rotate(-87.3)" y="2.5">Norm. <tspan font-style="italic">T</tspan><tspan font-size="5.74" dy="1.64">2</tspan><tspan dy="-1.64"> amplitude (a.u.)</tspan></text>
</g>
<defs><linearGradient id="ga" x1="0" y1="0" x2="0" y2="1"><stop offset="0" stop-color="#f0f921"/><stop offset="0.05" stop-color="#f7e425"/><stop offset="0.1" stop-color="#fcce25"/><stop offset="0.15" stop-color="#feba2c"/><stop offset="0.2" stop-color="#fca636"/><stop offset="0.25" stop-color="#f89540"/><stop offset="0.3" stop-color="#f2844b"/><stop offset="0.35" stop-color="#ea7457"/><stop offset="0.4" stop-color="#e16462"/><stop offset="0.45" stop-color="#d6556d"/><stop offset="0.5" stop-color="#cc4778"/><stop offset="0.55" stop-color="#bf3984"/><stop offset="0.6" stop-color="#b12a90"/><stop offset="0.65" stop-color="#a11b9b"/><stop offset="0.7" stop-color="#8f0da4"/><stop offset="0.75" stop-color="#7e03a8"/><stop offset="0.8" stop-color="#6a00a8"/><stop offset="0.85" stop-color="#5601a4"/><stop offset="0.9" stop-color="#41049d"/><stop offset="0.95" stop-color="#2a0593"/><stop offset="1" stop-color="#0d0887"/></linearGradient></defs>
<rect x="283.4" y="29.3" width="16.9" height="165" fill="url(#ga)" stroke="#000" stroke-width="0.9"/>
<g font-family='"Liberation Sans", Arial, sans-serif' font-size="7.6" fill="#000" stroke="#000" stroke-width="0.16">
<line x1="300.2" x2="303.9" y1="189.7" y2="189.7" stroke="#000" stroke-width="0.9"/>
<text x="306.4" y="192.6">50</text>
<line x1="300.2" x2="303.9" y1="168.6" y2="168.6" stroke="#000" stroke-width="0.9"/>
<text x="306.4" y="171.5">60</text>
<line x1="300.2" x2="303.9" y1="147.6" y2="147.6" stroke="#000" stroke-width="0.9"/>
<text x="306.4" y="150.5">70</text>
<line x1="300.2" x2="303.9" y1="126.5" y2="126.5" stroke="#000" stroke-width="0.9"/>
<text x="306.4" y="129.5">80</text>
<line x1="300.2" x2="303.9" y1="105.5" y2="105.5" stroke="#000" stroke-width="0.9"/>
<text x="306.4" y="108.4">90</text>
<line x1="300.2" x2="303.9" y1="84.4" y2="84.4" stroke="#000" stroke-width="0.9"/>
<text x="306.4" y="87.4">100</text>
<line x1="300.2" x2="303.9" y1="63.4" y2="63.4" stroke="#000" stroke-width="0.9"/>
<text x="306.4" y="66.3">110</text>
<line x1="300.2" x2="303.9" y1="42.3" y2="42.3" stroke="#000" stroke-width="0.9"/>
<text x="306.4" y="45.3">120</text>
</g>
<text transform="translate(325.6,112.3) rotate(-90)" font-family='"Liberation Sans", Arial, sans-serif' font-size="8.2" text-anchor="middle" y="2.9">OSI</text>
<text x="3.3" y="11" font-family='"Liberation Sans", Arial, sans-serif' font-size="10.6" font-weight="bold">a</text>
<polygon points="358.8,177.8 445.3,105.3 444.1,0.8 353.5,66.9" fill="#f9f9f9" stroke="#f4f4f4" stroke-width="0.8"/>
<polygon points="445.3,105.3 584,145.6 589,37.5 444.1,0.8" fill="#f2f2f2" stroke="#ececec" stroke-width="0.8"/>
<polygon points="358.8,177.8 505.9,225.8 584,145.6 445.3,105.3" fill="#f5f5f5" stroke="#f0f0f0" stroke-width="0.8"/>
<g fill="none" stroke="#b0b0b0" stroke-width="0.85" stroke-linejoin="round">
<polyline points="367.7,180.7 453.7,107.7 452.9,3"/>
<polyline points="398,190.6 482.3,116.1 482.7,10.6"/>
<polyline points="428.9,200.7 511.6,124.6 513.2,18.3"/>
<polyline points="460.6,211 541.4,133.2 544.4,26.2"/>
<polyline points="493,221.6 571.9,142.1 576.3,34.3"/>
<polyline points="511.6,219.9 365.2,172.4 360.1,62"/>
<polyline points="517.4,214 371.5,167.1 366.8,57.2"/>
<polyline points="523,208.2 377.7,161.9 373.4,52.4"/>
<polyline points="528.6,202.4 383.9,156.7 379.8,47.6"/>
<polyline points="534.1,196.8 390,151.6 386.2,43"/>
<polyline points="539.6,191.2 396,146.6 392.6,38.4"/>
<polyline points="545,185.7 402,141.6 398.8,33.8"/>
<polyline points="550.3,180.2 407.9,136.6 405,29.3"/>
<polyline points="555.6,174.8 413.7,131.7 411.1,24.8"/>
<polyline points="560.8,169.5 419.5,126.9 417.1,20.4"/>
<polyline points="565.9,164.2 425.2,122.1 423.1,16.1"/>
<polyline points="571,159 430.8,117.4 428.9,11.8"/>
<polyline points="576,153.9 436.3,112.8 434.7,7.6"/>
<polyline points="580.9,148.8 441.8,108.2 440.5,3.4"/>
<polyline points="358.7,176.3 445.3,103.9 584.1,144.2"/>
<polyline points="357.8,156.6 445,85.3 585,124.9"/>
<polyline points="356.8,136.5 444.8,66.3 585.9,105.4"/>
<polyline points="355.8,116.1 444.6,47.1 586.8,85.5"/>
<polyline points="354.8,95.4 444.4,27.6 587.7,65.3"/>
<polyline points="353.8,74.3 444.1,7.7 588.6,44.7"/>
</g>
<g fill-opacity="0.8" stroke-opacity="0.8" stroke-width="0.33" stroke-linejoin="round">
<polygon points="444.3,113.7 446.7,114.4 452.1,109.8 449.8,109.1" fill="#1d0470" stroke="#1d0470"/>
<polygon points="446.7,114.4 449,114.3 454.5,109.7 452.1,109.8" fill="#1d0470" stroke="#1d0470"/>
<polygon points="449,114.3 451.4,113 456.8,108.2 454.5,109.7" fill="#1d0470" stroke="#1d0470"/>
<polygon points="451.4,113 453.8,111 459.2,106.1 456.8,108.2" fill="#1d0470" stroke="#1d0470"/>
<polygon points="438.8,118.4 441.1,119.1 446.7,114.4 444.3,113.7" fill="#42017e" stroke="#42017e"/>
<polygon points="453.8,111 456.1,108.1 461.6,103.2 459.2,106.1" fill="#1d0470" stroke="#1d0470"/>
<polygon points="441.1,119.1 443.5,119 449,114.3 446.7,114.4" fill="#42017e" stroke="#42017e"/>
<polygon points="443.5,119 445.9,117.7 451.4,113 449,114.3" fill="#42017e" stroke="#42017e"/>
<polygon points="456.1,108.1 458.5,104.5 463.9,99.4 461.6,103.2" fill="#1d0470" stroke="#1d0470"/>
<polygon points="445.9,117.7 448.2,115.7 453.8,111 451.4,113" fill="#42017e" stroke="#42017e"/>
<polygon points="433.2,123.2 435.6,123.9 441.1,119.1 438.8,118.4" fill="#520081" stroke="#520081"/>
<polygon points="458.5,104.5 460.9,100.2 466.3,95 463.9,99.4" fill="#1d0470" stroke="#1d0470"/>
<polygon points="448.2,115.7 450.6,112.9 456.1,108.1 453.8,111" fill="#42017e" stroke="#42017e"/>
<polygon points="435.6,123.9 437.9,123.8 443.5,119 441.1,119.1" fill="#520081" stroke="#520081"/>
<polygon points="437.9,123.8 440.3,122.4 445.9,117.7 443.5,119" fill="#520081" stroke="#520081"/>
<polygon points="450.6,112.9 453,109.3 458.5,104.5 456.1,108.1" fill="#42017e" stroke="#42017e"/>
<polygon points="460.9,100.2 463.3,94.7 468.7,89.3 466.3,95" fill="#1d0470" stroke="#1d0470"/>
<polygon points="440.3,122.4 442.7,120.3 448.2,115.7 445.9,117.7" fill="#520081" stroke="#520081"/>
<polygon points="427.5,128 429.9,128.7 435.6,123.9 433.2,123.2" fill="#6e0a7d" stroke="#6e0a7d"/>
<polygon points="453,109.3 455.4,105.1 460.9,100.2 458.5,104.5" fill="#42017e" stroke="#42017e"/>
<polygon points="442.7,120.3 445,117.4 450.6,112.9 448.2,115.7" fill="#520081" stroke="#520081"/>
<polygon points="429.9,128.7 432.3,128.6 437.9,123.8 435.6,123.9" fill="#6e0a7d" stroke="#6e0a7d"/>
<polygon points="463.3,94.7 465.7,88.9 471.1,83.3 468.7,89.3" fill="#1d0470" stroke="#1d0470"/>
<polygon points="432.3,128.6 434.7,127.2 440.3,122.4 437.9,123.8" fill="#6e0a7d" stroke="#6e0a7d"/>
<polygon points="445,117.4 447.4,113.6 453,109.3 450.6,112.9" fill="#520081" stroke="#520081"/>
<polygon points="455.4,105.1 457.7,99.6 463.3,94.7 460.9,100.2" fill="#42017e" stroke="#42017e"/>
<polygon points="434.7,127.2 437,125.1 442.7,120.3 440.3,122.4" fill="#6e0a7d" stroke="#6e0a7d"/>
<polygon points="465.7,88.9 468.1,83 473.5,77.2 471.1,83.3" fill="#1d0470" stroke="#1d0470"/>
<polygon points="507.2,130.2 509.7,132.4 514.9,127.6 512.4,127" fill="#1d0470" stroke="#1d0470"/>
<polygon points="421.8,132.8 424.2,133.5 429.9,128.7 427.5,128" fill="#88206e" stroke="#88206e"/>
<polygon points="504.9,119.5 507.2,130.2 512.4,127 510,125.6" fill="#1d0470" stroke="#1d0470"/>
<polygon points="447.4,113.6 449.8,109.1 455.4,105.1 453,109.3" fill="#520081" stroke="#520081"/>
<polygon points="509.7,132.4 512.1,133 517.3,128.3 514.9,127.6" fill="#1d0470" stroke="#1d0470"/>
<polygon points="437,125.1 439.4,122.2 445,117.4 442.7,120.3" fill="#6e0a7d" stroke="#6e0a7d"/>
<polygon points="457.7,99.6 460.1,93.9 465.7,88.9 463.3,94.7" fill="#42017e" stroke="#42017e"/>
<polygon points="424.2,133.5 426.6,133.4 432.3,128.6 429.9,128.7" fill="#88206e" stroke="#88206e"/>
<polygon points="512.1,133 514.6,133.6 519.8,128.9 517.3,128.3" fill="#1d0470" stroke="#1d0470"/>
<polygon points="514.6,133.6 517.1,134.3 522.3,129.6 519.8,128.9" fill="#1d0470" stroke="#1d0470"/>
<polygon points="468.1,83 470.5,78.4 476,72.5 473.5,77.2" fill="#1d0470" stroke="#1d0470"/>
<polygon points="502.5,108.3 504.9,119.5 510,125.6 507.7,114.1" fill="#1d0470" stroke="#1d0470"/>
<polygon points="426.6,133.4 428.9,131.9 434.7,127.2 432.3,128.6" fill="#88206e" stroke="#88206e"/>
<polygon points="517.1,134.3 519.6,134.9 524.8,130.3 522.3,129.6" fill="#1d0470" stroke="#1d0470"/>
<polygon points="439.4,122.2 441.8,118.4 447.4,113.6 445,117.4" fill="#6e0a7d" stroke="#6e0a7d"/>
<polygon points="449.8,109.1 452.1,103.5 457.7,99.6 455.4,105.1" fill="#520081" stroke="#520081"/>
<polygon points="519.6,134.9 522.1,135.5 527.3,131 524.8,130.3" fill="#1d0470" stroke="#1d0470"/>
<polygon points="428.9,131.9 431.3,129.7 437,125.1 434.7,127.2" fill="#88206e" stroke="#88206e"/>
<polygon points="460.1,93.9 462.5,88 468.1,83 465.7,88.9" fill="#42017e" stroke="#42017e"/>
<polygon points="522.1,135.5 524.6,136.1 529.8,131.7 527.3,131" fill="#1d0470" stroke="#1d0470"/>
<polygon points="524.6,136.1 527.1,136.7 532.3,132.4 529.8,131.7" fill="#1d0470" stroke="#1d0470"/>
<polygon points="416,137.7 418.4,138.4 424.2,133.5 421.8,132.8" fill="#0a0667" stroke="#0a0667"/>
<polygon points="441.8,118.4 444.1,114 449.8,109.1 447.4,113.6" fill="#6e0a7d" stroke="#6e0a7d"/>
<polygon points="504.4,137.1 506.9,137.8 512.1,133 509.7,132.4" fill="#42017e" stroke="#42017e"/>
<polygon points="500.1,97 502.5,108.3 507.7,114.1 505.4,99.1" fill="#1d0470" stroke="#1d0470"/>
<polygon points="502,126.1 504.4,137.1 509.7,132.4 507.2,130.2" fill="#42017e" stroke="#42017e"/>
<polygon points="431.3,129.7 433.7,126.7 439.4,122.2 437,125.1" fill="#88206e" stroke="#88206e"/>
<polygon points="527.1,136.7 529.6,137.2 534.8,133.1 532.3,132.4" fill="#1d0470" stroke="#1d0470"/>
<polygon points="418.4,138.4 420.8,138.3 426.6,133.4 424.2,133.5" fill="#0a0667" stroke="#0a0667"/>
<polygon points="452.1,103.5 454.5,97.5 460.1,93.9 457.7,99.6" fill="#520081" stroke="#520081"/>
<polygon points="470.5,78.4 473,74.7 478.5,50.3 476,72.5" fill="#1d0470" stroke="#1d0470"/>
<polygon points="506.9,137.8 509.4,138.4 514.6,133.6 512.1,133" fill="#42017e" stroke="#42017e"/>
<polygon points="529.6,137.2 532.1,137.8 537.3,133.9 534.8,133.1" fill="#1d0470" stroke="#1d0470"/>
<polygon points="462.5,88 465,83.5 470.5,78.4 468.1,83" fill="#42017e" stroke="#42017e"/>
<polygon points="509.4,138.4 511.9,139 517.1,134.3 514.6,133.6" fill="#42017e" stroke="#42017e"/>
<polygon points="420.8,138.3 423.2,136.7 428.9,131.9 426.6,133.4" fill="#0a0667" stroke="#0a0667"/>
<polygon points="532.1,137.8 534.7,138.5 539.8,134.6 537.3,133.9" fill="#1d0470" stroke="#1d0470"/>
<polygon points="511.9,139 514.4,139.6 519.6,134.9 517.1,134.3" fill="#42017e" stroke="#42017e"/>
<polygon points="499.6,115 502,126.1 507.2,130.2 504.9,119.5" fill="#42017e" stroke="#42017e"/>
<polygon points="433.7,126.7 436,122.7 441.8,118.4 439.4,122.2" fill="#88206e" stroke="#88206e"/>
<polygon points="534.7,138.5 537.2,139.2 542.3,135.4 539.8,134.6" fill="#1d0470" stroke="#1d0470"/>
<polygon points="444.1,114 446.5,108.3 452.1,103.5 449.8,109.1" fill="#6e0a7d" stroke="#6e0a7d"/>
<polygon points="514.4,139.6 516.9,140.1 522.1,135.5 519.6,134.9" fill="#42017e" stroke="#42017e"/>
<polygon points="537.2,139.2 539.7,140 544.8,136.2 542.3,135.4" fill="#1d0470" stroke="#1d0470"/>
<polygon points="423.2,136.7 425.5,134.5 431.3,129.7 428.9,131.9" fill="#0a0667" stroke="#0a0667"/>
<polygon points="497.7,86 500.1,97 505.4,99.1 503.1,85" fill="#1d0470" stroke="#1d0470"/>
<polygon points="454.5,97.5 456.9,91.3 462.5,88 460.1,93.9" fill="#520081" stroke="#520081"/>
<polygon points="465,83.5 467.4,79.8 473,74.7 470.5,78.4" fill="#42017e" stroke="#42017e"/>
<polygon points="516.9,140.1 519.4,140.7 524.6,136.1 522.1,135.5" fill="#42017e" stroke="#42017e"/>
<polygon points="539.7,140 542.2,140.9 547.3,137 544.8,136.2" fill="#1d0470" stroke="#1d0470"/>
<polygon points="410.1,142.7 412.5,143.4 418.4,138.4 416,137.7" fill="#88206e" stroke="#88206e"/>
<polygon points="519.4,140.7 521.9,141.2 527.1,136.7 524.6,136.1" fill="#42017e" stroke="#42017e"/>
<polygon points="542.2,140.9 544.8,141.9 549.8,137.8 547.3,137" fill="#1d0470" stroke="#1d0470"/>
<polygon points="436,122.7 438.4,118.1 444.1,114 441.8,118.4" fill="#88206e" stroke="#88206e"/>
<polygon points="499,141.9 501.5,142.5 506.9,137.8 504.4,137.1" fill="#520081" stroke="#520081"/>
<polygon points="497.2,103.9 499.6,115 504.9,119.5 502.5,108.3" fill="#42017e" stroke="#42017e"/>
<polygon points="425.5,134.5 427.9,131.3 433.7,126.7 431.3,129.7" fill="#0a0667" stroke="#0a0667"/>
<polygon points="544.8,141.9 547.3,142.9 552.4,138.5 549.8,137.8" fill="#1d0470" stroke="#1d0470"/>
<polygon points="412.5,143.4 414.9,143.2 420.8,138.3 418.4,138.4" fill="#88206e" stroke="#88206e"/>
<polygon points="521.9,141.2 524.4,141.7 529.6,137.2 527.1,136.7" fill="#42017e" stroke="#42017e"/>
<polygon points="446.5,108.3 448.9,102.3 454.5,97.5 452.1,103.5" fill="#6e0a7d" stroke="#6e0a7d"/>
<polygon points="496.6,135.2 499,141.9 504.4,137.1 502,126.1" fill="#520081" stroke="#520081"/>
<polygon points="501.5,142.5 504,143.1 509.4,138.4 506.9,137.8" fill="#520081" stroke="#520081"/>
<polygon points="547.3,142.9 549.8,143.9 554.9,138.8 552.4,138.5" fill="#1d0470" stroke="#1d0470"/>
<polygon points="524.4,141.7 527,142.2 532.1,137.8 529.6,137.2" fill="#42017e" stroke="#42017e"/>
<polygon points="456.9,91.3 459.4,86.6 465,83.5 462.5,88" fill="#520081" stroke="#520081"/>
<polygon points="504,143.1 506.5,143.7 511.9,139 509.4,138.4" fill="#520081" stroke="#520081"/>
<polygon points="473,74.7 475.4,57.3 481,33.3 478.5,50.3" fill="#1d0470" stroke="#1d0470"/>
<polygon points="414.9,143.2 417.3,141.6 423.2,136.7 420.8,138.3" fill="#88206e" stroke="#88206e"/>
<polygon points="495.3,74 497.7,86 503.1,85 500.7,71.5" fill="#1d0470" stroke="#1d0470"/>
<polygon points="467.4,79.8 469.9,77.3 475.4,57.3 473,74.7" fill="#42017e" stroke="#42017e"/>
<polygon points="549.8,143.9 552.4,144.8 557.5,138.5 554.9,138.8" fill="#1d0470" stroke="#1d0470"/>
<polygon points="527,142.2 529.5,142.8 534.7,138.5 532.1,137.8" fill="#42017e" stroke="#42017e"/>
<polygon points="506.5,143.7 509.1,144.2 514.4,139.6 511.9,139" fill="#520081" stroke="#520081"/>
<polygon points="427.9,131.3 430.2,127.1 436,122.7 433.7,126.7" fill="#0a0667" stroke="#0a0667"/>
<polygon points="438.4,118.1 440.8,112.2 446.5,108.3 444.1,114" fill="#88206e" stroke="#88206e"/>
<polygon points="552.4,144.8 554.9,145.7 560,139.4 557.5,138.5" fill="#1d0470" stroke="#1d0470"/>
<polygon points="529.5,142.8 532,143.5 537.2,139.2 534.7,138.5" fill="#42017e" stroke="#42017e"/>
<polygon points="494.8,92.9 497.2,103.9 502.5,108.3 500.1,97" fill="#42017e" stroke="#42017e"/>
<polygon points="509.1,144.2 511.6,144.8 516.9,140.1 514.4,139.6" fill="#520081" stroke="#520081"/>
<polygon points="494.2,122.4 496.6,135.2 502,126.1 499.6,115" fill="#520081" stroke="#520081"/>
<polygon points="554.9,145.7 557.5,146.6 562.5,141.3 560,139.4" fill="#1d0470" stroke="#1d0470"/>
<polygon points="417.3,141.6 419.7,139.2 425.5,134.5 423.2,136.7" fill="#88206e" stroke="#88206e"/>
<polygon points="532,143.5 534.6,144.3 539.7,140 537.2,139.2" fill="#42017e" stroke="#42017e"/>
<polygon points="448.9,102.3 451.3,96.2 456.9,91.3 454.5,97.5" fill="#6e0a7d" stroke="#6e0a7d"/>
<polygon points="459.4,86.6 461.8,82.8 467.4,79.8 465,83.5" fill="#520081" stroke="#520081"/>
<polygon points="557.5,146.6 560.1,147.5 565.1,142.5 562.5,141.3" fill="#1d0470" stroke="#1d0470"/>
<polygon points="511.6,144.8 514.1,145.3 519.4,140.7 516.9,140.1" fill="#520081" stroke="#520081"/>
<polygon points="534.6,144.3 537.1,145.3 542.2,140.9 539.7,140" fill="#42017e" stroke="#42017e"/>
<polygon points="404.2,147.7 406.6,148.4 412.5,143.4 410.1,142.7" fill="#660580" stroke="#660580"/>
<polygon points="560.1,147.5 562.6,148.3 567.6,143.3 565.1,142.5" fill="#1d0470" stroke="#1d0470"/>
<polygon points="514.1,145.3 516.6,145.8 521.9,141.2 519.4,140.7" fill="#520081" stroke="#520081"/>
<polygon points="537.1,145.3 539.6,146.3 544.8,141.9 542.2,140.9" fill="#42017e" stroke="#42017e"/>
<polygon points="430.2,127.1 432.6,122.3 438.4,118.1 436,122.7" fill="#0a0667" stroke="#0a0667"/>
<polygon points="492.9,61.5 495.3,74 500.7,71.5 498.4,57.6" fill="#1d0470" stroke="#1d0470"/>
<polygon points="562.6,148.3 565.2,149.1 570.2,144.1 567.6,143.3" fill="#1d0470" stroke="#1d0470"/>
<polygon points="406.6,148.4 409,148.3 414.9,143.2 412.5,143.4" fill="#660580" stroke="#660580"/>
<polygon points="419.7,139.2 422,135.9 427.9,131.3 425.5,134.5" fill="#88206e" stroke="#88206e"/>
<polygon points="493.6,142.1 496.1,147.2 501.5,142.5 499,141.9" fill="#6e0a7d" stroke="#6e0a7d"/>
<polygon points="539.6,146.3 542.2,147.4 547.3,142.9 544.8,141.9" fill="#42017e" stroke="#42017e"/>
<polygon points="516.6,145.8 519.2,146.3 524.4,141.7 521.9,141.2" fill="#520081" stroke="#520081"/>
<polygon points="440.8,112.2 443.1,105.9 448.9,102.3 446.5,108.3" fill="#88206e" stroke="#88206e"/>
<polygon points="461.8,82.8 464.3,80.1 469.9,77.3 467.4,79.8" fill="#520081" stroke="#520081"/>
<polygon points="496.1,147.2 498.6,147.8 504,143.1 501.5,142.5" fill="#6e0a7d" stroke="#6e0a7d"/>
<polygon points="492.4,81.8 494.8,92.9 500.1,97 497.7,86" fill="#42017e" stroke="#42017e"/>
<polygon points="542.2,147.4 544.7,148.5 549.8,143.9 547.3,142.9" fill="#42017e" stroke="#42017e"/>
<polygon points="491.8,110.6 494.2,122.4 499.6,115 497.2,103.9" fill="#520081" stroke="#520081"/>
<polygon points="519.2,146.3 521.7,146.8 527,142.2 524.4,141.7" fill="#520081" stroke="#520081"/>
<polygon points="451.3,96.2 453.7,91.5 459.4,86.6 456.9,91.3" fill="#6e0a7d" stroke="#6e0a7d"/>
<polygon points="498.6,147.8 501.2,148.3 506.5,143.7 504,143.1" fill="#6e0a7d" stroke="#6e0a7d"/>
<polygon points="491.2,128.3 493.6,142.1 499,141.9 496.6,135.2" fill="#6e0a7d" stroke="#6e0a7d"/>
<polygon points="409,148.3 411.4,146.6 417.3,141.6 414.9,143.2" fill="#660580" stroke="#660580"/>
<polygon points="544.7,148.5 547.3,149.6 552.4,144.8 549.8,143.9" fill="#42017e" stroke="#42017e"/>
<polygon points="521.7,146.8 524.3,147.5 529.5,142.8 527,142.2" fill="#520081" stroke="#520081"/>
<polygon points="501.2,148.3 503.7,148.9 509.1,144.2 506.5,143.7" fill="#6e0a7d" stroke="#6e0a7d"/>
<polygon points="547.3,149.6 549.8,150.6 554.9,145.7 552.4,144.8" fill="#42017e" stroke="#42017e"/>
<polygon points="422,135.9 424.4,131.6 430.2,127.1 427.9,131.3" fill="#88206e" stroke="#88206e"/>
<polygon points="475.4,57.3 478,37.6 483.5,25.2 481,33.3" fill="#1d0470" stroke="#1d0470"/>
<polygon points="469.9,77.3 472.4,57.8 478,37.6 475.4,57.3" fill="#42017e" stroke="#42017e"/>
<polygon points="432.6,122.3 435,116.1 440.8,112.2 438.4,118.1" fill="#0a0667" stroke="#0a0667"/>
<polygon points="524.3,147.5 526.8,148.2 532,143.5 529.5,142.8" fill="#520081" stroke="#520081"/>
<polygon points="549.8,150.6 552.4,151.6 557.5,146.6 554.9,145.7" fill="#42017e" stroke="#42017e"/>
<polygon points="503.7,148.9 506.2,149.4 511.6,144.8 509.1,144.2" fill="#6e0a7d" stroke="#6e0a7d"/>
<polygon points="411.4,146.6 413.8,144.2 419.7,139.2 417.3,141.6" fill="#660580" stroke="#660580"/>
<polygon points="490.5,49.8 492.9,61.5 498.4,57.6 496,45" fill="#1d0470" stroke="#1d0470"/>
<polygon points="526.8,148.2 529.3,149.1 534.6,144.3 532,143.5" fill="#520081" stroke="#520081"/>
<polygon points="489.9,69.4 492.4,81.8 497.7,86 495.3,74" fill="#42017e" stroke="#42017e"/>
<polygon points="443.1,105.9 445.5,99.5 451.3,96.2 448.9,102.3" fill="#88206e" stroke="#88206e"/>
<polygon points="552.4,151.6 555,152.5 560.1,147.5 557.5,146.6" fill="#42017e" stroke="#42017e"/>
<polygon points="453.7,91.5 456.2,87.6 461.8,82.8 459.4,86.6" fill="#6e0a7d" stroke="#6e0a7d"/>
<polygon points="506.2,149.4 508.8,149.9 514.1,145.3 511.6,144.8" fill="#6e0a7d" stroke="#6e0a7d"/>
<polygon points="489.3,99.5 491.8,110.6 497.2,103.9 494.8,92.9" fill="#520081" stroke="#520081"/>
<polygon points="529.3,149.1 531.9,150.1 537.1,145.3 534.6,144.3" fill="#520081" stroke="#520081"/>
<polygon points="488.8,118.6 491.2,128.3 496.6,135.2 494.2,122.4" fill="#6e0a7d" stroke="#6e0a7d"/>
<polygon points="398.2,152.8 400.6,153.5 406.6,148.4 404.2,147.7" fill="#bc6a37" stroke="#bc6a37"/>
<polygon points="555,152.5 557.5,153.4 562.6,148.3 560.1,147.5" fill="#42017e" stroke="#42017e"/>
<polygon points="464.3,80.1 466.8,69.2 472.4,57.8 469.9,77.3" fill="#520081" stroke="#520081"/>
<polygon points="508.8,149.9 511.3,150.3 516.6,145.8 514.1,145.3" fill="#6e0a7d" stroke="#6e0a7d"/>
<polygon points="531.9,150.1 534.4,151.2 539.6,146.3 537.1,145.3" fill="#520081" stroke="#520081"/>
<polygon points="424.4,131.6 426.7,126.6 432.6,122.3 430.2,127.1" fill="#88206e" stroke="#88206e"/>
<polygon points="557.5,153.4 560.1,154.2 565.2,149.1 562.6,148.3" fill="#42017e" stroke="#42017e"/>
<polygon points="400.6,153.5 403,153.4 409,148.3 406.6,148.4" fill="#bc6a37" stroke="#bc6a37"/>
<polygon points="413.8,144.2 416.1,140.8 422,135.9 419.7,139.2" fill="#660580" stroke="#660580"/>
<polygon points="534.4,151.2 537,152.3 542.2,147.4 539.6,146.3" fill="#520081" stroke="#520081"/>
<polygon points="511.3,150.3 513.8,150.8 519.2,146.3 516.6,145.8" fill="#6e0a7d" stroke="#6e0a7d"/>
<polygon points="435,116.1 437.3,109.6 443.1,105.9 440.8,112.2" fill="#0a0667" stroke="#0a0667"/>
<polygon points="456.2,87.6 458.6,83.3 464.3,80.1 461.8,82.8" fill="#6e0a7d" stroke="#6e0a7d"/>
<polygon points="488,40.2 490.5,49.8 496,45 493.5,34.5" fill="#1d0470" stroke="#1d0470"/>
<polygon points="537,152.3 539.6,153.5 544.7,148.5 542.2,147.4" fill="#520081" stroke="#520081"/>
<polygon points="513.8,150.8 516.4,151.3 521.7,146.8 519.2,146.3" fill="#6e0a7d" stroke="#6e0a7d"/>
<polygon points="403,153.4 405.4,151.7 411.4,146.6 409,148.3" fill="#bc6a37" stroke="#bc6a37"/>
<polygon points="445.5,99.5 448,94.6 453.7,91.5 451.3,96.2" fill="#88206e" stroke="#88206e"/>
<polygon points="490.7,143.8 493.2,150.3 498.6,147.8 496.1,147.2" fill="#88206e" stroke="#88206e"/>
<polygon points="493.2,150.3 495.7,153.2 501.2,148.3 498.6,147.8" fill="#88206e" stroke="#88206e"/>
<polygon points="539.6,153.5 542.1,154.6 547.3,149.6 544.7,148.5" fill="#520081" stroke="#520081"/>
<polygon points="486.9,88.5 489.3,99.5 494.8,92.9 492.4,81.8" fill="#520081" stroke="#520081"/>
<polygon points="487.5,57.3 489.9,69.4 495.3,74 492.9,61.5" fill="#42017e" stroke="#42017e"/>
<polygon points="478,37.6 480.5,31.1 486.1,20.9 483.5,25.2" fill="#1d0470" stroke="#1d0470"/>
<polygon points="486.3,108.7 488.8,118.6 494.2,122.4 491.8,110.6" fill="#6e0a7d" stroke="#6e0a7d"/>
<polygon points="516.4,151.3 519,151.8 524.3,147.5 521.7,146.8" fill="#6e0a7d" stroke="#6e0a7d"/>
<polygon points="488.2,137.1 490.7,143.8 496.1,147.2 493.6,142.1" fill="#88206e" stroke="#88206e"/>
<polygon points="495.7,153.2 498.2,153.8 503.7,148.9 501.2,148.3" fill="#88206e" stroke="#88206e"/>
<polygon points="542.1,154.6 544.7,155.6 549.8,150.6 547.3,149.6" fill="#520081" stroke="#520081"/>
<polygon points="416.1,140.8 418.5,136.4 424.4,131.6 422,135.9" fill="#660580" stroke="#660580"/>
<polygon points="485.5,34.3 488,40.2 493.5,34.5 491.1,26.7" fill="#1d0470" stroke="#1d0470"/>
<polygon points="519,151.8 521.5,152.6 526.8,148.2 524.3,147.5" fill="#6e0a7d" stroke="#6e0a7d"/>
<polygon points="426.7,126.6 429.1,120.2 435,116.1 432.6,122.3" fill="#88206e" stroke="#88206e"/>
<polygon points="544.7,155.6 547.3,156.6 552.4,151.6 549.8,150.6" fill="#520081" stroke="#520081"/>
<polygon points="498.2,153.8 500.8,154.4 506.2,149.4 503.7,148.9" fill="#88206e" stroke="#88206e"/>
<polygon points="405.4,151.7 407.8,149.3 413.8,144.2 411.4,146.6" fill="#bc6a37" stroke="#bc6a37"/>
<polygon points="480.5,31.1 483,31.6 488.6,20.8 486.1,20.9" fill="#1d0470" stroke="#1d0470"/>
<polygon points="521.5,152.6 524.1,153.5 529.3,149.1 526.8,148.2" fill="#6e0a7d" stroke="#6e0a7d"/>
<polygon points="547.3,156.6 549.8,157.5 555,152.5 552.4,151.6" fill="#520081" stroke="#520081"/>
<polygon points="472.4,57.8 474.9,42.3 480.5,31.1 478,37.6" fill="#42017e" stroke="#42017e"/>
<polygon points="483,31.6 485.5,34.3 491.1,26.7 488.6,20.8" fill="#1d0470" stroke="#1d0470"/>
<polygon points="500.8,154.4 503.3,154.9 508.8,149.9 506.2,149.4" fill="#88206e" stroke="#88206e"/>
<polygon points="448,94.6 450.4,90.5 456.2,87.6 453.7,91.5" fill="#88206e" stroke="#88206e"/>
<polygon points="437.3,109.6 439.7,102.9 445.5,99.5 443.1,105.9" fill="#0a0667" stroke="#0a0667"/>
<polygon points="485.7,129.3 488.2,137.1 493.6,142.1 491.2,128.3" fill="#88206e" stroke="#88206e"/>
<polygon points="392.1,157.9 394.6,158.7 400.6,153.5 398.2,152.8" fill="#660580" stroke="#660580"/>
<polygon points="524.1,153.5 526.6,154.6 531.9,150.1 529.3,149.1" fill="#6e0a7d" stroke="#6e0a7d"/>
<polygon points="549.8,157.5 552.4,158.4 557.5,153.4 555,152.5" fill="#520081" stroke="#520081"/>
<polygon points="485,47 487.5,57.3 492.9,61.5 490.5,49.8" fill="#42017e" stroke="#42017e"/>
<polygon points="503.3,154.9 505.9,155.4 511.3,150.3 508.8,149.9" fill="#88206e" stroke="#88206e"/>
<polygon points="483.8,97 486.3,108.7 491.8,110.6 489.3,99.5" fill="#6e0a7d" stroke="#6e0a7d"/>
<polygon points="484.4,74.9 486.9,88.5 492.4,81.8 489.9,69.4" fill="#520081" stroke="#520081"/>
<polygon points="458.6,83.3 461,66 466.8,69.2 464.3,80.1" fill="#6e0a7d" stroke="#6e0a7d"/>
<polygon points="526.6,154.6 529.2,155.8 534.4,151.2 531.9,150.1" fill="#6e0a7d" stroke="#6e0a7d"/>
<polygon points="552.4,158.4 555,159.3 560.1,154.2 557.5,153.4" fill="#520081" stroke="#520081"/>
<polygon points="394.6,158.7 397,158.5 403,153.4 400.6,153.5" fill="#660580" stroke="#660580"/>
<polygon points="418.5,136.4 420.8,131.3 426.7,126.6 424.4,131.6" fill="#660580" stroke="#660580"/>
<polygon points="407.8,149.3 410.1,145.9 416.1,140.8 413.8,144.2" fill="#bc6a37" stroke="#bc6a37"/>
<polygon points="529.2,155.8 531.7,157 537,152.3 534.4,151.2" fill="#6e0a7d" stroke="#6e0a7d"/>
<polygon points="505.9,155.4 508.4,155.8 513.8,150.8 511.3,150.3" fill="#88206e" stroke="#88206e"/>
<polygon points="466.8,69.2 469.2,51.5 474.9,42.3 472.4,57.8" fill="#520081" stroke="#520081"/>
<polygon points="531.7,157 534.3,158.3 539.6,153.5 537,152.3" fill="#6e0a7d" stroke="#6e0a7d"/>
<polygon points="429.1,120.2 431.4,113.4 437.3,109.6 435,116.1" fill="#88206e" stroke="#88206e"/>
<polygon points="450.4,90.5 452.9,87.7 458.6,83.3 456.2,87.6" fill="#88206e" stroke="#88206e"/>
<polygon points="397,158.5 399.4,156.9 405.4,151.7 403,153.4" fill="#660580" stroke="#660580"/>
<polygon points="508.4,155.8 511,156.1 516.4,151.3 513.8,150.8" fill="#88206e" stroke="#88206e"/>
<polygon points="483.2,119.3 485.7,129.3 491.2,128.3 488.8,118.6" fill="#88206e" stroke="#88206e"/>
<polygon points="534.3,158.3 536.9,159.5 542.1,154.6 539.6,153.5" fill="#6e0a7d" stroke="#6e0a7d"/>
<polygon points="482.5,40.5 485,47 490.5,49.8 488,40.2" fill="#42017e" stroke="#42017e"/>
<polygon points="474.9,42.3 477.4,37 483,31.6 480.5,31.1" fill="#42017e" stroke="#42017e"/>
<polygon points="487.7,154.9 490.2,158.4 495.7,153.2 493.2,150.3" fill="#0a0667" stroke="#0a0667"/>
<polygon points="439.7,102.9 442.1,97.8 448,94.6 445.5,99.5" fill="#0a0667" stroke="#0a0667"/>
<polygon points="490.2,158.4 492.7,159 498.2,153.8 495.7,153.2" fill="#0a0667" stroke="#0a0667"/>
<polygon points="511,156.1 513.6,156.3 519,151.8 516.4,151.3" fill="#88206e" stroke="#88206e"/>
<polygon points="536.9,159.5 539.5,160.6 544.7,155.6 542.1,154.6" fill="#6e0a7d" stroke="#6e0a7d"/>
<polygon points="410.1,145.9 412.5,141.5 418.5,136.4 416.1,140.8" fill="#bc6a37" stroke="#bc6a37"/>
<polygon points="481.3,85 483.8,97 489.3,99.5 486.9,88.5" fill="#6e0a7d" stroke="#6e0a7d"/>
<polygon points="485.2,146.9 487.7,154.9 493.2,150.3 490.7,143.8" fill="#0a0667" stroke="#0a0667"/>
<polygon points="480,37.7 482.5,40.5 488,40.2 485.5,34.3" fill="#42017e" stroke="#42017e"/>
<polygon points="477.4,37 480,37.7 485.5,34.3 483,31.6" fill="#42017e" stroke="#42017e"/>
<polygon points="539.5,160.6 542,161.7 547.3,156.6 544.7,155.6" fill="#6e0a7d" stroke="#6e0a7d"/>
<polygon points="492.7,159 495.3,159.6 500.8,154.4 498.2,153.8" fill="#0a0667" stroke="#0a0667"/>
<polygon points="420.8,131.3 423.1,124.8 429.1,120.2 426.7,126.6" fill="#660580" stroke="#660580"/>
<polygon points="399.4,156.9 401.7,154.5 407.8,149.3 405.4,151.7" fill="#660580" stroke="#660580"/>
<polygon points="513.6,156.3 516.2,156.7 521.5,152.6 519,151.8" fill="#88206e" stroke="#88206e"/>
<polygon points="481.9,60.3 484.4,74.9 489.9,69.4 487.5,57.3" fill="#520081" stroke="#520081"/>
<polygon points="542,161.7 544.6,162.6 549.8,157.5 547.3,156.6" fill="#6e0a7d" stroke="#6e0a7d"/>
<polygon points="495.3,159.6 497.9,160.1 503.3,154.9 500.8,154.4" fill="#0a0667" stroke="#0a0667"/>
<polygon points="516.2,156.7 518.7,157.2 524.1,153.5 521.5,152.6" fill="#88206e" stroke="#88206e"/>
<polygon points="482.7,140.6 485.2,146.9 490.7,143.8 488.2,137.1" fill="#0a0667" stroke="#0a0667"/>
<polygon points="386,163.1 388.4,163.9 394.6,158.7 392.1,157.9" fill="#a64452" stroke="#a64452"/>
<polygon points="480.7,107.4 483.2,119.3 488.8,118.6 486.3,108.7" fill="#88206e" stroke="#88206e"/>
<polygon points="544.6,162.6 547.2,163.6 552.4,158.4 549.8,157.5" fill="#6e0a7d" stroke="#6e0a7d"/>
<polygon points="431.4,113.4 433.8,106.4 439.7,102.9 437.3,109.6" fill="#88206e" stroke="#88206e"/>
<polygon points="442.1,97.8 444.6,93.6 450.4,90.5 448,94.6" fill="#0a0667" stroke="#0a0667"/>
<polygon points="518.7,157.2 521.3,158.2 526.6,154.6 524.1,153.5" fill="#88206e" stroke="#88206e"/>
<polygon points="497.9,160.1 500.4,160.4 505.9,155.4 503.3,154.9" fill="#0a0667" stroke="#0a0667"/>
<polygon points="388.4,163.9 390.9,164.5 397,158.5 394.6,158.7" fill="#a64452" stroke="#a64452"/>
<polygon points="547.2,163.6 549.8,164.5 555,159.3 552.4,158.4" fill="#6e0a7d" stroke="#6e0a7d"/>
<polygon points="401.7,154.5 404.1,151.1 410.1,145.9 407.8,149.3" fill="#660580" stroke="#660580"/>
<polygon points="412.5,141.5 414.8,136.4 420.8,131.3 418.5,136.4" fill="#bc6a37" stroke="#bc6a37"/>
<polygon points="521.3,158.2 523.9,159.4 529.2,155.8 526.6,154.6" fill="#88206e" stroke="#88206e"/>
<polygon points="480.1,134.2 482.7,140.6 488.2,137.1 485.7,129.3" fill="#0a0667" stroke="#0a0667"/>
<polygon points="461,66 463.5,56.4 469.2,51.5 466.8,69.2" fill="#6e0a7d" stroke="#6e0a7d"/>
<polygon points="452.9,87.7 455.3,72.3 461,66 458.6,83.3" fill="#88206e" stroke="#88206e"/>
<polygon points="469.2,51.5 471.8,44.2 477.4,37 474.9,42.3" fill="#520081" stroke="#520081"/>
<polygon points="500.4,160.4 503,160.5 508.4,155.8 505.9,155.4" fill="#0a0667" stroke="#0a0667"/>
<polygon points="523.9,159.4 526.5,160.9 531.7,157 529.2,155.8" fill="#88206e" stroke="#88206e"/>
<polygon points="478.8,71.5 481.3,85 486.9,88.5 484.4,74.9" fill="#6e0a7d" stroke="#6e0a7d"/>
<polygon points="390.9,164.5 393.3,163.5 399.4,156.9 397,158.5" fill="#a64452" stroke="#a64452"/>
<polygon points="479.4,48.5 481.9,60.3 487.5,57.3 485,47" fill="#520081" stroke="#520081"/>
<polygon points="526.5,160.9 529,162.5 534.3,158.3 531.7,157" fill="#88206e" stroke="#88206e"/>
<polygon points="423.1,124.8 425.5,117.9 431.4,113.4 429.1,120.2" fill="#660580" stroke="#660580"/>
<polygon points="503,160.5 505.6,160.4 511,156.1 508.4,155.8" fill="#0a0667" stroke="#0a0667"/>
<polygon points="529,162.5 531.6,164.1 536.9,159.5 534.3,158.3" fill="#88206e" stroke="#88206e"/>
<polygon points="444.6,93.6 447,87.9 452.9,87.7 450.4,90.5" fill="#0a0667" stroke="#0a0667"/>
<polygon points="477.6,127.3 480.1,134.2 485.7,129.3 483.2,119.3" fill="#0a0667" stroke="#0a0667"/>
<polygon points="478.2,93.3 480.7,107.4 486.3,108.7 483.8,97" fill="#88206e" stroke="#88206e"/>
<polygon points="482.1,155.9 484.6,162.4 490.2,158.4 487.7,154.9" fill="#88206e" stroke="#88206e"/>
<polygon points="531.6,164.1 534.2,165.5 539.5,160.6 536.9,159.5" fill="#88206e" stroke="#88206e"/>
<polygon points="404.1,151.1 406.4,146.7 412.5,141.5 410.1,145.9" fill="#660580" stroke="#660580"/>
<polygon points="484.6,162.4 487.2,162.6 492.7,159 490.2,158.4" fill="#88206e" stroke="#88206e"/>
<polygon points="505.6,160.4 508.2,160.2 513.6,156.3 511,156.1" fill="#0a0667" stroke="#0a0667"/>
<polygon points="471.8,44.2 474.3,41.6 480,37.7 477.4,37" fill="#520081" stroke="#520081"/>
<polygon points="393.3,163.5 395.6,161.1 401.7,154.5 399.4,156.9" fill="#a64452" stroke="#a64452"/>
<polygon points="433.8,106.4 436.1,95.9 442.1,97.8 439.7,102.9" fill="#88206e" stroke="#88206e"/>
<polygon points="534.2,165.5 536.8,166.7 542,161.7 539.5,160.6" fill="#88206e" stroke="#88206e"/>
<polygon points="414.8,136.4 417.1,129.9 423.1,124.8 420.8,131.3" fill="#bc6a37" stroke="#bc6a37"/>
<polygon points="476.8,43.2 479.4,48.5 485,47 482.5,40.5" fill="#520081" stroke="#520081"/>
<polygon points="487.2,162.6 489.8,162.6 495.3,159.6 492.7,159" fill="#88206e" stroke="#88206e"/>
<polygon points="474.3,41.6 476.8,43.2 482.5,40.5 480,37.7" fill="#520081" stroke="#520081"/>
<polygon points="508.2,160.2 510.7,160.2 516.2,156.7 513.6,156.3" fill="#0a0667" stroke="#0a0667"/>
<polygon points="479.6,147.5 482.1,155.9 487.7,154.9 485.2,146.9" fill="#88206e" stroke="#88206e"/>
<polygon points="536.8,166.7 539.4,167.8 544.6,162.6 542,161.7" fill="#88206e" stroke="#88206e"/>
<polygon points="475.1,120.5 477.6,127.3 483.2,119.3 480.7,107.4" fill="#0a0667" stroke="#0a0667"/>
<polygon points="379.7,168.4 382.2,169 388.4,163.9 386,163.1" fill="#831c72" stroke="#831c72"/>
<polygon points="489.8,162.6 492.3,162.6 497.9,160.1 495.3,159.6" fill="#88206e" stroke="#88206e"/>
<polygon points="539.4,167.8 542,168.8 547.2,163.6 544.6,162.6" fill="#88206e" stroke="#88206e"/>
<polygon points="510.7,160.2 513.3,160.8 518.7,157.2 516.2,156.7" fill="#0a0667" stroke="#0a0667"/>
<polygon points="476.3,59.1 478.8,71.5 484.4,74.9 481.9,60.3" fill="#6e0a7d" stroke="#6e0a7d"/>
<polygon points="425.5,117.9 427.8,110.8 433.8,106.4 431.4,113.4" fill="#660580" stroke="#660580"/>
<polygon points="463.5,56.4 466,51.6 471.8,44.2 469.2,51.5" fill="#6e0a7d" stroke="#6e0a7d"/>
<polygon points="395.6,161.1 398,157.9 404.1,151.1 401.7,154.5" fill="#a64452" stroke="#a64452"/>
<polygon points="382.2,169 384.7,169.4 390.9,164.5 388.4,163.9" fill="#831c72" stroke="#831c72"/>
<polygon points="542,168.8 544.6,169.7 549.8,164.5 547.2,163.6" fill="#88206e" stroke="#88206e"/>
<polygon points="406.4,146.7 408.7,141.6 414.8,136.4 412.5,141.5" fill="#660580" stroke="#660580"/>
<polygon points="513.3,160.8 515.9,162.1 521.3,158.2 518.7,157.2" fill="#0a0667" stroke="#0a0667"/>
<polygon points="477,140.3 479.6,147.5 485.2,146.9 482.7,140.6" fill="#88206e" stroke="#88206e"/>
<polygon points="492.3,162.6 494.9,162.7 500.4,160.4 497.9,160.1" fill="#88206e" stroke="#88206e"/>
<polygon points="475.7,80.5 478.2,93.3 483.8,97 481.3,85" fill="#88206e" stroke="#88206e"/>
<polygon points="515.9,162.1 518.5,163.9 523.9,159.4 521.3,158.2" fill="#0a0667" stroke="#0a0667"/>
<polygon points="455.3,72.3 457.7,62.9 463.5,56.4 461,66" fill="#88206e" stroke="#88206e"/>
<polygon points="384.7,169.4 387.1,168.5 393.3,163.5 390.9,164.5" fill="#831c72" stroke="#831c72"/>
<polygon points="447,87.9 449.4,74.1 455.3,72.3 452.9,87.7" fill="#0a0667" stroke="#0a0667"/>
<polygon points="518.5,163.9 521.1,166 526.5,160.9 523.9,159.4" fill="#0a0667" stroke="#0a0667"/>
<polygon points="494.9,162.7 497.5,162.9 503,160.5 500.4,160.4" fill="#88206e" stroke="#88206e"/>
<polygon points="436.1,95.9 438.5,87.4 444.6,93.6 442.1,97.8" fill="#88206e" stroke="#88206e"/>
<polygon points="417.1,129.9 419.5,123 425.5,117.9 423.1,124.8" fill="#bc6a37" stroke="#bc6a37"/>
<polygon points="474.5,133 477,140.3 482.7,140.6 480.1,134.2" fill="#88206e" stroke="#88206e"/>
<polygon points="521.1,166 523.6,167.9 529,162.5 526.5,160.9" fill="#0a0667" stroke="#0a0667"/>
<polygon points="472.5,112.3 475.1,120.5 480.7,107.4 478.2,93.3" fill="#0a0667" stroke="#0a0667"/>
<polygon points="523.6,167.9 526.2,169.6 531.6,164.1 529,162.5" fill="#0a0667" stroke="#0a0667"/>
<polygon points="466,51.6 468.6,49.6 474.3,41.6 471.8,44.2" fill="#6e0a7d" stroke="#6e0a7d"/>
<polygon points="497.5,162.9 500.1,163.4 505.6,160.4 503,160.5" fill="#88206e" stroke="#88206e"/>
<polygon points="398,157.9 400.3,153.5 406.4,146.7 404.1,151.1" fill="#a64452" stroke="#a64452"/>
<polygon points="473.7,52.2 476.3,59.1 481.9,60.3 479.4,48.5" fill="#6e0a7d" stroke="#6e0a7d"/>
<polygon points="526.2,169.6 528.8,171 534.2,165.5 531.6,164.1" fill="#0a0667" stroke="#0a0667"/>
<polygon points="387.1,168.5 389.4,166.3 395.6,161.1 393.3,163.5" fill="#831c72" stroke="#831c72"/>
<polygon points="471.9,125.9 474.5,133 480.1,134.2 477.6,127.3" fill="#88206e" stroke="#88206e"/>
<polygon points="479,165 481.5,166.7 487.2,162.6 484.6,162.4" fill="#660580" stroke="#660580"/>
<polygon points="528.8,171 531.4,172.2 536.8,166.7 534.2,165.5" fill="#0a0667" stroke="#0a0667"/>
<polygon points="500.1,163.4 502.7,164.2 508.2,160.2 505.6,160.4" fill="#88206e" stroke="#88206e"/>
<polygon points="408.7,141.6 411.1,135.1 417.1,129.9 414.8,136.4" fill="#660580" stroke="#660580"/>
<polygon points="427.8,110.8 430.3,105.4 436.1,95.9 433.8,106.4" fill="#660580" stroke="#660580"/>
<polygon points="468.6,49.6 471.1,50.2 476.8,43.2 474.3,41.6" fill="#6e0a7d" stroke="#6e0a7d"/>
<polygon points="476.4,157.4 479,165 484.6,162.4 482.1,155.9" fill="#660580" stroke="#660580"/>
<polygon points="471.1,50.2 473.7,52.2 479.4,48.5 476.8,43.2" fill="#6e0a7d" stroke="#6e0a7d"/>
<polygon points="531.4,172.2 534,173.2 539.4,167.8 536.8,166.7" fill="#0a0667" stroke="#0a0667"/>
<polygon points="473.1,68.1 475.7,80.5 481.3,85 478.8,71.5" fill="#88206e" stroke="#88206e"/>
<polygon points="481.5,166.7 484.1,166.6 489.8,162.6 487.2,162.6" fill="#660580" stroke="#660580"/>
<polygon points="502.7,164.2 505.2,165.4 510.7,160.2 508.2,160.2" fill="#88206e" stroke="#88206e"/>
<polygon points="373.4,173.7 375.9,174.4 382.2,169 379.7,168.4" fill="#b8bf1a" stroke="#b8bf1a"/>
<polygon points="457.7,62.9 460.3,58.2 466,51.6 463.5,56.4" fill="#88206e" stroke="#88206e"/>
<polygon points="469.3,119.2 471.9,125.9 477.6,127.3 475.1,120.5" fill="#88206e" stroke="#88206e"/>
<polygon points="438.5,87.4 441,81.1 447,87.9 444.6,93.6" fill="#88206e" stroke="#88206e"/>
<polygon points="534,173.2 536.7,174.2 542,168.8 539.4,167.8" fill="#0a0667" stroke="#0a0667"/>
<polygon points="389.4,166.3 391.8,163.1 398,157.9 395.6,161.1" fill="#831c72" stroke="#831c72"/>
<polygon points="469.9,99.2 472.5,112.3 478.2,93.3 475.7,80.5" fill="#0a0667" stroke="#0a0667"/>
<polygon points="505.2,165.4 507.8,166.8 513.3,160.8 510.7,160.2" fill="#88206e" stroke="#88206e"/>
<polygon points="419.5,123 421.8,115.9 427.8,110.8 425.5,117.9" fill="#bc6a37" stroke="#bc6a37"/>
<polygon points="400.3,153.5 402.6,148.1 408.7,141.6 406.4,146.7" fill="#a64452" stroke="#a64452"/>
<polygon points="484.1,166.6 486.7,166.6 492.3,162.6 489.8,162.6" fill="#660580" stroke="#660580"/>
<polygon points="375.9,174.4 378.4,174.8 384.7,169.4 382.2,169" fill="#b8bf1a" stroke="#b8bf1a"/>
<polygon points="536.7,174.2 539.3,175.1 544.6,169.7 542,168.8" fill="#0a0667" stroke="#0a0667"/>
<polygon points="473.9,148.4 476.4,157.4 482.1,155.9 479.6,147.5" fill="#660580" stroke="#660580"/>
<polygon points="507.8,166.8 510.4,168.3 515.9,162.1 513.3,160.8" fill="#88206e" stroke="#88206e"/>
<polygon points="466.7,112 469.3,119.2 475.1,120.5 472.5,112.3" fill="#88206e" stroke="#88206e"/>
<polygon points="510.4,168.3 513,170 518.5,163.9 515.9,162.1" fill="#88206e" stroke="#88206e"/>
<polygon points="449.4,74.1 451.9,67.3 457.7,62.9 455.3,72.3" fill="#0a0667" stroke="#0a0667"/>
<polygon points="486.7,166.6 489.3,166.8 494.9,162.7 492.3,162.6" fill="#660580" stroke="#660580"/>
<polygon points="378.4,174.8 380.8,175.1 387.1,168.5 384.7,169.4" fill="#b8bf1a" stroke="#b8bf1a"/>
<polygon points="513,170 515.6,171.7 521.1,166 518.5,163.9" fill="#88206e" stroke="#88206e"/>
<polygon points="460.3,58.2 462.8,56.3 468.6,49.6 466,51.6" fill="#88206e" stroke="#88206e"/>
<polygon points="411.1,135.1 413.4,128.2 419.5,123 417.1,129.9" fill="#660580" stroke="#660580"/>
<polygon points="515.6,171.7 518.2,173.3 523.6,167.9 521.1,166" fill="#88206e" stroke="#88206e"/>
<polygon points="470.5,60.3 473.1,68.1 478.8,71.5 476.3,59.1" fill="#88206e" stroke="#88206e"/>
<polygon points="430.3,105.4 432.7,100.9 438.5,87.4 436.1,95.9" fill="#660580" stroke="#660580"/>
<polygon points="471.3,141.1 473.9,148.4 479.6,147.5 477,140.3" fill="#660580" stroke="#660580"/>
<polygon points="391.8,163.1 394.1,159.4 400.3,153.5 398,157.9" fill="#831c72" stroke="#831c72"/>
<polygon points="489.3,166.8 491.9,167.2 497.5,162.9 494.9,162.7" fill="#660580" stroke="#660580"/>
<polygon points="518.2,173.3 520.8,174.8 526.2,169.6 523.6,167.9" fill="#88206e" stroke="#88206e"/>
<polygon points="380.8,175.1 383.3,175 389.4,166.3 387.1,168.5" fill="#b8bf1a" stroke="#b8bf1a"/>
<polygon points="462.8,56.3 465.4,56.7 471.1,50.2 468.6,49.6" fill="#88206e" stroke="#88206e"/>
<polygon points="520.8,174.8 523.4,176.2 528.8,171 526.2,169.6" fill="#88206e" stroke="#88206e"/>
<polygon points="491.9,167.2 494.5,167.9 500.1,163.4 497.5,162.9" fill="#660580" stroke="#660580"/>
<polygon points="441,81.1 443.5,77.8 449.4,74.1 447,87.9" fill="#88206e" stroke="#88206e"/>
<polygon points="402.6,148.1 404.9,141.5 411.1,135.1 408.7,141.6" fill="#a64452" stroke="#a64452"/>
<polygon points="464.1,102.5 466.7,112 472.5,112.3 469.9,99.2" fill="#88206e" stroke="#88206e"/>
<polygon points="421.8,115.9 424.2,110.4 430.3,105.4 427.8,110.8" fill="#bc6a37" stroke="#bc6a37"/>
<polygon points="467.9,58.2 470.5,60.3 476.3,59.1 473.7,52.2" fill="#88206e" stroke="#88206e"/>
<polygon points="467.3,84.6 469.9,99.2 475.7,80.5 473.1,68.1" fill="#0a0667" stroke="#0a0667"/>
<polygon points="465.4,56.7 467.9,58.2 473.7,52.2 471.1,50.2" fill="#88206e" stroke="#88206e"/>
<polygon points="523.4,176.2 526,177.4 531.4,172.2 528.8,171" fill="#88206e" stroke="#88206e"/>
<polygon points="468.7,133.6 471.3,141.1 477,140.3 474.5,133" fill="#660580" stroke="#660580"/>
<polygon points="494.5,167.9 497.1,168.9 502.7,164.2 500.1,163.4" fill="#660580" stroke="#660580"/>
<polygon points="526,177.4 528.6,178.5 534,173.2 531.4,172.2" fill="#88206e" stroke="#88206e"/>
<polygon points="451.9,67.3 454.4,63.6 460.3,58.2 457.7,62.9" fill="#0a0667" stroke="#0a0667"/>
<polygon points="383.3,175 385.7,174.1 391.8,163.1 389.4,166.3" fill="#b8bf1a" stroke="#b8bf1a"/>
<polygon points="497.1,168.9 499.7,170.1 505.2,165.4 502.7,164.2" fill="#660580" stroke="#660580"/>
<polygon points="528.6,178.5 531.3,179.5 536.7,174.2 534,173.2" fill="#88206e" stroke="#88206e"/>
<polygon points="394.1,159.4 396.5,155.4 402.6,148.1 400.3,153.5" fill="#831c72" stroke="#831c72"/>
<polygon points="432.7,100.9 435.1,96.3 441,81.1 438.5,87.4" fill="#660580" stroke="#660580"/>
<polygon points="475.8,167 478.4,170.6 484.1,166.6 481.5,166.7" fill="#bc6a37" stroke="#bc6a37"/>
<polygon points="473.3,160 475.8,167 481.5,166.7 479,165" fill="#bc6a37" stroke="#bc6a37"/>
<polygon points="499.7,170.1 502.3,171.6 507.8,166.8 505.2,165.4" fill="#660580" stroke="#660580"/>
<polygon points="413.4,128.2 415.7,121.1 421.8,115.9 419.5,123" fill="#660580" stroke="#660580"/>
<polygon points="466.1,126.4 468.7,133.6 474.5,133 471.9,125.9" fill="#660580" stroke="#660580"/>
<polygon points="531.3,179.5 533.9,180.5 539.3,175.1 536.7,174.2" fill="#88206e" stroke="#88206e"/>
<polygon points="502.3,171.6 504.9,173.3 510.4,168.3 507.8,166.8" fill="#660580" stroke="#660580"/>
<polygon points="478.4,170.6 481,170.8 486.7,166.6 484.1,166.6" fill="#bc6a37" stroke="#bc6a37"/>
<polygon points="424.2,110.4 426.7,105.9 432.7,100.9 430.3,105.4" fill="#bc6a37" stroke="#bc6a37"/>
<polygon points="385.7,174.1 388.2,172.7 394.1,159.4 391.8,163.1" fill="#b8bf1a" stroke="#b8bf1a"/>
<polygon points="504.9,173.3 507.5,175 513,170 510.4,168.3" fill="#660580" stroke="#660580"/>
<polygon points="454.4,63.6 457,62.7 462.8,56.3 460.3,58.2" fill="#0a0667" stroke="#0a0667"/>
<polygon points="470.7,151.8 473.3,160 479,165 476.4,157.4" fill="#bc6a37" stroke="#bc6a37"/>
<polygon points="461.5,91.8 464.1,102.5 469.9,99.2 467.3,84.6" fill="#88206e" stroke="#88206e"/>
<polygon points="443.5,77.8 446,75.4 451.9,67.3 449.4,74.1" fill="#88206e" stroke="#88206e"/>
<polygon points="464.7,71.7 467.3,84.6 473.1,68.1 470.5,60.3" fill="#0a0667" stroke="#0a0667"/>
<polygon points="507.5,175 510.1,176.7 515.6,171.7 513,170" fill="#660580" stroke="#660580"/>
<polygon points="463.5,119.3 466.1,126.4 471.9,125.9 469.3,119.2" fill="#660580" stroke="#660580"/>
<polygon points="404.9,141.5 407.2,133.7 413.4,128.2 411.1,135.1" fill="#a64452" stroke="#a64452"/>
<polygon points="481,170.8 483.6,171.1 489.3,166.8 486.7,166.6" fill="#bc6a37" stroke="#bc6a37"/>
<polygon points="510.1,176.7 512.7,178.4 518.2,173.3 515.6,171.7" fill="#660580" stroke="#660580"/>
<polygon points="457,62.7 459.5,63.8 465.4,56.7 462.8,56.3" fill="#0a0667" stroke="#0a0667"/>
<polygon points="512.7,178.4 515.3,179.9 520.8,174.8 518.2,173.3" fill="#660580" stroke="#660580"/>
<polygon points="396.5,155.4 398.8,150.7 404.9,141.5 402.6,148.1" fill="#831c72" stroke="#831c72"/>
<polygon points="483.6,171.1 486.2,171.7 491.9,167.2 489.3,166.8" fill="#bc6a37" stroke="#bc6a37"/>
<polygon points="459.5,63.8 462.1,65.7 467.9,58.2 465.4,56.7" fill="#0a0667" stroke="#0a0667"/>
<polygon points="462.1,65.7 464.7,71.7 470.5,60.3 467.9,58.2" fill="#0a0667" stroke="#0a0667"/>
<polygon points="468.1,144.8 470.7,151.8 476.4,157.4 473.9,148.4" fill="#bc6a37" stroke="#bc6a37"/>
<polygon points="460.9,112.3 463.5,119.3 469.3,119.2 466.7,112" fill="#660580" stroke="#660580"/>
<polygon points="435.1,96.3 437.6,87.6 443.5,77.8 441,81.1" fill="#660580" stroke="#660580"/>
<polygon points="515.3,179.9 517.9,181.4 523.4,176.2 520.8,174.8" fill="#660580" stroke="#660580"/>
<polygon points="388.2,172.7 390.6,170.9 396.5,155.4 394.1,159.4" fill="#b8bf1a" stroke="#b8bf1a"/>
<polygon points="415.7,121.1 418.1,115.6 424.2,110.4 421.8,115.9" fill="#660580" stroke="#660580"/>
<polygon points="426.7,105.9 429.1,102.8 435.1,96.3 432.7,100.9" fill="#bc6a37" stroke="#bc6a37"/>
<polygon points="486.2,171.7 488.8,172.5 494.5,167.9 491.9,167.2" fill="#bc6a37" stroke="#bc6a37"/>
<polygon points="446,75.4 448.5,74.1 454.4,63.6 451.9,67.3" fill="#88206e" stroke="#88206e"/>
<polygon points="517.9,181.4 520.6,182.6 526,177.4 523.4,176.2" fill="#660580" stroke="#660580"/>
<polygon points="520.6,182.6 523.2,183.8 528.6,178.5 526,177.4" fill="#660580" stroke="#660580"/>
<polygon points="488.8,172.5 491.4,173.7 497.1,168.9 494.5,167.9" fill="#bc6a37" stroke="#bc6a37"/>
<polygon points="458.9,82.9 461.5,91.8 467.3,84.6 464.7,71.7" fill="#88206e" stroke="#88206e"/>
<polygon points="465.4,138.5 468.1,144.8 473.9,148.4 471.3,141.1" fill="#bc6a37" stroke="#bc6a37"/>
<polygon points="458.3,105.5 460.9,112.3 466.7,112 464.1,102.5" fill="#660580" stroke="#660580"/>
<polygon points="491.4,173.7 494,175.1 499.7,170.1 497.1,168.9" fill="#bc6a37" stroke="#bc6a37"/>
<polygon points="523.2,183.8 525.8,184.9 531.3,179.5 528.6,178.5" fill="#660580" stroke="#660580"/>
<polygon points="448.5,74.1 451.1,73.8 457,62.7 454.4,63.6" fill="#88206e" stroke="#88206e"/>
<polygon points="390.6,170.9 393,168.7 398.8,150.7 396.5,155.4" fill="#b8bf1a" stroke="#b8bf1a"/>
<polygon points="407.2,133.7 409.5,125.9 415.7,121.1 413.4,128.2" fill="#a64452" stroke="#a64452"/>
<polygon points="494,175.1 496.6,176.8 502.3,171.6 499.7,170.1" fill="#bc6a37" stroke="#bc6a37"/>
<polygon points="437.6,87.6 440.1,83.3 446,75.4 443.5,77.8" fill="#660580" stroke="#660580"/>
<polygon points="525.8,184.9 528.5,185.9 533.9,180.5 531.3,179.5" fill="#660580" stroke="#660580"/>
<polygon points="462.8,132 465.4,138.5 471.3,141.1 468.7,133.6" fill="#bc6a37" stroke="#bc6a37"/>
<polygon points="398.8,150.7 401.2,144.5 407.2,133.7 404.9,141.5" fill="#831c72" stroke="#831c72"/>
<polygon points="496.6,176.8 499.3,178.5 504.9,173.3 502.3,171.6" fill="#bc6a37" stroke="#bc6a37"/>
<polygon points="429.1,102.8 431.7,101.1 437.6,87.6 435.1,96.3" fill="#bc6a37" stroke="#bc6a37"/>
<polygon points="451.1,73.8 453.7,74.7 459.5,63.8 457,62.7" fill="#88206e" stroke="#88206e"/>
<polygon points="418.1,115.6 420.6,111.1 426.7,105.9 424.2,110.4" fill="#660580" stroke="#660580"/>
<polygon points="470,170.3 472.6,174 478.4,170.6 475.8,167" fill="#660580" stroke="#660580"/>
<polygon points="456.3,76.8 458.9,82.9 464.7,71.7 462.1,65.7" fill="#88206e" stroke="#88206e"/>
<polygon points="499.3,178.5 501.9,180.3 507.5,175 504.9,173.3" fill="#bc6a37" stroke="#bc6a37"/>
<polygon points="455.6,98.8 458.3,105.5 464.1,102.5 461.5,91.8" fill="#660580" stroke="#660580"/>
<polygon points="472.6,174 475.2,174.5 481,170.8 478.4,170.6" fill="#660580" stroke="#660580"/>
<polygon points="453.7,74.7 456.3,76.8 462.1,65.7 459.5,63.8" fill="#88206e" stroke="#88206e"/>
<polygon points="501.9,180.3 504.5,182.1 510.1,176.7 507.5,175" fill="#bc6a37" stroke="#bc6a37"/>
<polygon points="467.4,163.9 470,170.3 475.8,167 473.3,160" fill="#660580" stroke="#660580"/>
<polygon points="504.5,182.1 507.1,183.8 512.7,178.4 510.1,176.7" fill="#bc6a37" stroke="#bc6a37"/>
<polygon points="460.2,124.9 462.8,132 468.7,133.6 466.1,126.4" fill="#bc6a37" stroke="#bc6a37"/>
<polygon points="475.2,174.5 477.9,175.1 483.6,171.1 481,170.8" fill="#660580" stroke="#660580"/>
<polygon points="440.1,83.3 442.6,80.6 448.5,74.1 446,75.4" fill="#660580" stroke="#660580"/>
<polygon points="507.1,183.8 509.7,185.4 515.3,179.9 512.7,178.4" fill="#bc6a37" stroke="#bc6a37"/>
<polygon points="393,168.7 395.4,165 401.2,144.5 398.8,150.7" fill="#b8bf1a" stroke="#b8bf1a"/>
<polygon points="453,92.3 455.6,98.8 461.5,91.8 458.9,82.9" fill="#660580" stroke="#660580"/>
<polygon points="509.7,185.4 512.4,186.8 517.9,181.4 515.3,179.9" fill="#bc6a37" stroke="#bc6a37"/>
<polygon points="477.9,175.1 480.5,176 486.2,171.7 483.6,171.1" fill="#660580" stroke="#660580"/>
<polygon points="420.6,111.1 423,108 429.1,102.8 426.7,105.9" fill="#660580" stroke="#660580"/>
<polygon points="464.8,156 467.4,163.9 473.3,160 470.7,151.8" fill="#660580" stroke="#660580"/>
<polygon points="409.5,125.9 411.9,119.1 418.1,115.6 415.7,121.1" fill="#a64452" stroke="#a64452"/>
<polygon points="457.6,117.1 460.2,124.9 466.1,126.4 463.5,119.3" fill="#bc6a37" stroke="#bc6a37"/>
<polygon points="512.4,186.8 515,188.1 520.6,182.6 517.9,181.4" fill="#bc6a37" stroke="#bc6a37"/>
<polygon points="431.7,101.1 434.1,93.8 440.1,83.3 437.6,87.6" fill="#bc6a37" stroke="#bc6a37"/>
<polygon points="442.6,80.6 445.1,79.8 451.1,73.8 448.5,74.1" fill="#660580" stroke="#660580"/>
<polygon points="480.5,176 483.1,177.2 488.8,172.5 486.2,171.7" fill="#660580" stroke="#660580"/>
<polygon points="401.2,144.5 403.5,138.3 409.5,125.9 407.2,133.7" fill="#831c72" stroke="#831c72"/>
<polygon points="515,188.1 517.7,189.3 523.2,183.8 520.6,182.6" fill="#bc6a37" stroke="#bc6a37"/>
<polygon points="450.4,86.2 453,92.3 458.9,82.9 456.3,76.8" fill="#660580" stroke="#660580"/>
<polygon points="483.1,177.2 485.7,178.7 491.4,173.7 488.8,172.5" fill="#660580" stroke="#660580"/>
<polygon points="445.1,79.8 447.7,81.3 453.7,74.7 451.1,73.8" fill="#660580" stroke="#660580"/>
<polygon points="462.2,148.4 464.8,156 470.7,151.8 468.1,144.8" fill="#660580" stroke="#660580"/>
<polygon points="447.7,81.3 450.4,86.2 456.3,76.8 453.7,74.7" fill="#660580" stroke="#660580"/>
<polygon points="517.7,189.3 520.3,190.4 525.8,184.9 523.2,183.8" fill="#bc6a37" stroke="#bc6a37"/>
<polygon points="485.7,178.7 488.3,180.3 494,175.1 491.4,173.7" fill="#660580" stroke="#660580"/>
<polygon points="454.9,109.7 457.6,117.1 463.5,119.3 460.9,112.3" fill="#bc6a37" stroke="#bc6a37"/>
<polygon points="423,108 425.5,104 431.7,101.1 429.1,102.8" fill="#660580" stroke="#660580"/>
<polygon points="395.4,165 397.7,160.2 403.5,138.3 401.2,144.5" fill="#b8bf1a" stroke="#b8bf1a"/>
<polygon points="488.3,180.3 490.9,182.2 496.6,176.8 494,175.1" fill="#660580" stroke="#660580"/>
<polygon points="520.3,190.4 523,191.4 528.5,185.9 525.8,184.9" fill="#bc6a37" stroke="#bc6a37"/>
<polygon points="490.9,182.2 493.6,184 499.3,178.5 496.6,176.8" fill="#660580" stroke="#660580"/>
<polygon points="459.5,142.1 462.2,148.4 468.1,144.8 465.4,138.5" fill="#660580" stroke="#660580"/>
<polygon points="434.1,93.8 436.6,89.8 442.6,80.6 440.1,83.3" fill="#bc6a37" stroke="#bc6a37"/>
<polygon points="493.6,184 496.2,185.9 501.9,180.3 499.3,178.5" fill="#660580" stroke="#660580"/>
<polygon points="411.9,119.1 414.3,113.8 420.6,111.1 418.1,115.6" fill="#a64452" stroke="#a64452"/>
<polygon points="452.3,102.4 454.9,109.7 460.9,112.3 458.3,105.5" fill="#bc6a37" stroke="#bc6a37"/>
<polygon points="496.2,185.9 498.8,187.7 504.5,182.1 501.9,180.3" fill="#660580" stroke="#660580"/>
<polygon points="461.6,173.6 464.2,173.2 470,170.3 467.4,163.9" fill="#a64452" stroke="#a64452"/>
<polygon points="459,174.2 461.6,173.6 467.4,163.9 464.8,156" fill="#a64452" stroke="#a64452"/>
<polygon points="498.8,187.7 501.5,189.4 507.1,183.8 504.5,182.1" fill="#660580" stroke="#660580"/>
<polygon points="464.2,173.2 466.8,173.2 472.6,174 470,170.3" fill="#a64452" stroke="#a64452"/>
<polygon points="456.9,136 459.5,142.1 465.4,138.5 462.8,132" fill="#660580" stroke="#660580"/>
<polygon points="456.4,173.4 459,174.2 464.8,156 462.2,148.4" fill="#a64452" stroke="#a64452"/>
<polygon points="403.5,138.3 405.9,132.1 411.9,119.1 409.5,125.9" fill="#831c72" stroke="#831c72"/>
<polygon points="501.5,189.4 504.1,191 509.7,185.4 507.1,183.8" fill="#660580" stroke="#660580"/>
<polygon points="449.6,95.3 452.3,102.4 458.3,105.5 455.6,98.8" fill="#bc6a37" stroke="#bc6a37"/>
<polygon points="425.5,104 428,98.9 434.1,93.8 431.7,101.1" fill="#660580" stroke="#660580"/>
<polygon points="466.8,173.2 469.4,173.7 475.2,174.5 472.6,174" fill="#a64452" stroke="#a64452"/>
<polygon points="436.6,89.8 439.1,87.6 445.1,79.8 442.6,80.6" fill="#bc6a37" stroke="#bc6a37"/>
<polygon points="504.1,191 506.8,192.4 512.4,186.8 509.7,185.4" fill="#660580" stroke="#660580"/>
<polygon points="397.7,160.2 400.1,155.4 405.9,132.1 403.5,138.3" fill="#b8bf1a" stroke="#b8bf1a"/>
<polygon points="453.7,164.3 456.4,173.4 462.2,148.4 459.5,142.1" fill="#a64452" stroke="#a64452"/>
<polygon points="454.2,129.8 456.9,136 462.8,132 460.2,124.9" fill="#660580" stroke="#660580"/>
<polygon points="469.4,173.7 472,174.8 477.9,175.1 475.2,174.5" fill="#a64452" stroke="#a64452"/>
<polygon points="506.8,192.4 509.4,193.7 515,188.1 512.4,186.8" fill="#660580" stroke="#660580"/>
<polygon points="414.3,113.8 416.8,109.9 423,108 420.6,111.1" fill="#a64452" stroke="#a64452"/>
<polygon points="446.9,90.4 449.6,95.3 455.6,98.8 453,92.3" fill="#bc6a37" stroke="#bc6a37"/>
<polygon points="439.1,87.6 441.7,87.3 447.7,81.3 445.1,79.8" fill="#bc6a37" stroke="#bc6a37"/>
<polygon points="472,174.8 474.6,176.4 480.5,176 477.9,175.1" fill="#a64452" stroke="#a64452"/>
<polygon points="509.4,193.7 512.1,194.9 517.7,189.3 515,188.1" fill="#660580" stroke="#660580"/>
<polygon points="444.3,88.4 446.9,90.4 453,92.3 450.4,86.2" fill="#bc6a37" stroke="#bc6a37"/>
<polygon points="441.7,87.3 444.3,88.4 450.4,86.2 447.7,81.3" fill="#bc6a37" stroke="#bc6a37"/>
<polygon points="451.6,123.8 454.2,129.8 460.2,124.9 457.6,117.1" fill="#660580" stroke="#660580"/>
<polygon points="474.6,176.4 477.3,178.5 483.1,177.2 480.5,176" fill="#a64452" stroke="#a64452"/>
<polygon points="512.1,194.9 514.7,196 520.3,190.4 517.7,189.3" fill="#660580" stroke="#660580"/>
<polygon points="451,154.8 453.7,164.3 459.5,142.1 456.9,136" fill="#a64452" stroke="#a64452"/>
<polygon points="477.3,178.5 479.9,180.8 485.7,178.7 483.1,177.2" fill="#a64452" stroke="#a64452"/>
<polygon points="428,98.9 430.5,95.9 436.6,89.8 434.1,93.8" fill="#660580" stroke="#660580"/>
<polygon points="405.9,132.1 408.3,127.3 414.3,113.8 411.9,119.1" fill="#831c72" stroke="#831c72"/>
<polygon points="479.9,180.8 482.5,183.4 488.3,180.3 485.7,178.7" fill="#a64452" stroke="#a64452"/>
<polygon points="514.7,196 517.4,197 523,191.4 520.3,190.4" fill="#660580" stroke="#660580"/>
<polygon points="416.8,109.9 419.3,107.8 425.5,104 423,108" fill="#a64452" stroke="#a64452"/>
<polygon points="482.5,183.4 485.2,186 490.9,182.2 488.3,180.3" fill="#a64452" stroke="#a64452"/>
<polygon points="448.9,117.7 451.6,123.8 457.6,117.1 454.9,109.7" fill="#660580" stroke="#660580"/>
<polygon points="400.1,155.4 402.5,151.1 408.3,127.3 405.9,132.1" fill="#b8bf1a" stroke="#b8bf1a"/>
<polygon points="485.2,186 487.8,188.6 493.6,184 490.9,182.2" fill="#a64452" stroke="#a64452"/>
<polygon points="487.8,188.6 490.5,191 496.2,185.9 493.6,184" fill="#a64452" stroke="#a64452"/>
<polygon points="448.3,146.3 451,154.8 456.9,136 454.2,129.8" fill="#a64452" stroke="#a64452"/>
<polygon points="490.5,191 493.1,193.2 498.8,187.7 496.2,185.9" fill="#a64452" stroke="#a64452"/>
<polygon points="446.3,111.8 448.9,117.7 454.9,109.7 452.3,102.4" fill="#660580" stroke="#660580"/>
<polygon points="493.1,193.2 495.7,195.1 501.5,189.4 498.8,187.7" fill="#a64452" stroke="#a64452"/>
<polygon points="430.5,95.9 433.1,94.4 439.1,87.6 436.6,89.8" fill="#660580" stroke="#660580"/>
<polygon points="495.7,195.1 498.4,196.8 504.1,191 501.5,189.4" fill="#a64452" stroke="#a64452"/>
<polygon points="408.3,127.3 410.7,123.3 416.8,109.9 414.3,113.8" fill="#831c72" stroke="#831c72"/>
<polygon points="419.3,107.8 421.8,106.2 428,98.9 425.5,104" fill="#a64452" stroke="#a64452"/>
<polygon points="445.6,137.7 448.3,146.3 454.2,129.8 451.6,123.8" fill="#a64452" stroke="#a64452"/>
<polygon points="452.8,162 455.5,168.8 461.6,173.6 459,174.2" fill="#831c72" stroke="#831c72"/>
<polygon points="455.5,168.8 458.2,174.9 464.2,173.2 461.6,173.6" fill="#831c72" stroke="#831c72"/>
<polygon points="498.4,196.8 501.1,198.3 506.8,192.4 504.1,191" fill="#a64452" stroke="#a64452"/>
<polygon points="450.2,155.4 452.8,162 459,174.2 456.4,173.4" fill="#831c72" stroke="#831c72"/>
<polygon points="458.2,174.9 460.8,179.3 466.8,173.2 464.2,173.2" fill="#831c72" stroke="#831c72"/>
<polygon points="443.6,106.4 446.3,111.8 452.3,102.4 449.6,95.3" fill="#660580" stroke="#660580"/>
<polygon points="402.5,151.1 404.9,146.8 410.7,123.3 408.3,127.3" fill="#b8bf1a" stroke="#b8bf1a"/>
<polygon points="460.8,179.3 463.5,182.7 469.4,173.7 466.8,173.2" fill="#831c72" stroke="#831c72"/>
<polygon points="433.1,94.4 435.6,94.2 441.7,87.3 439.1,87.6" fill="#660580" stroke="#660580"/>
<polygon points="501.1,198.3 503.7,199.7 509.4,193.7 506.8,192.4" fill="#a64452" stroke="#a64452"/>
<polygon points="463.5,182.7 466.1,185.6 472,174.8 469.4,173.7" fill="#831c72" stroke="#831c72"/>
<polygon points="440.9,101 443.6,106.4 449.6,95.3 446.9,90.4" fill="#660580" stroke="#660580"/>
<polygon points="447.5,148.4 450.2,155.4 456.4,173.4 453.7,164.3" fill="#831c72" stroke="#831c72"/>
<polygon points="466.1,185.6 468.7,188.1 474.6,176.4 472,174.8" fill="#831c72" stroke="#831c72"/>
<polygon points="503.7,199.7 506.4,200.8 512.1,194.9 509.4,193.7" fill="#a64452" stroke="#a64452"/>
<polygon points="435.6,94.2 438.3,96.6 444.3,88.4 441.7,87.3" fill="#660580" stroke="#660580"/>
<polygon points="442.9,128.7 445.6,137.7 451.6,123.8 448.9,117.7" fill="#a64452" stroke="#a64452"/>
<polygon points="438.3,96.6 440.9,101 446.9,90.4 444.3,88.4" fill="#660580" stroke="#660580"/>
<polygon points="468.7,188.1 471.4,190.5 477.3,178.5 474.6,176.4" fill="#831c72" stroke="#831c72"/>
<polygon points="421.8,106.2 424.4,105.1 430.5,95.9 428,98.9" fill="#a64452" stroke="#a64452"/>
<polygon points="471.4,190.5 474,192.8 479.9,180.8 477.3,178.5" fill="#831c72" stroke="#831c72"/>
<polygon points="410.7,123.3 413.2,120.3 419.3,107.8 416.8,109.9" fill="#831c72" stroke="#831c72"/>
<polygon points="506.4,200.8 509.1,201.9 514.7,196 512.1,194.9" fill="#a64452" stroke="#a64452"/>
<polygon points="474,192.8 476.7,195 482.5,183.4 479.9,180.8" fill="#831c72" stroke="#831c72"/>
<polygon points="476.7,195 479.3,197 485.2,186 482.5,183.4" fill="#831c72" stroke="#831c72"/>
<polygon points="479.3,197 482,199 487.8,188.6 485.2,186" fill="#831c72" stroke="#831c72"/>
<polygon points="509.1,201.9 511.7,202.9 517.4,197 514.7,196" fill="#a64452" stroke="#a64452"/>
<polygon points="404.9,146.8 407.3,142.4 413.2,120.3 410.7,123.3" fill="#b8bf1a" stroke="#b8bf1a"/>
<polygon points="440.2,120.5 442.9,128.7 448.9,117.7 446.3,111.8" fill="#a64452" stroke="#a64452"/>
<polygon points="444.8,141.8 447.5,148.4 453.7,164.3 451,154.8" fill="#831c72" stroke="#831c72"/>
<polygon points="482,199 484.6,200.6 490.5,191 487.8,188.6" fill="#831c72" stroke="#831c72"/>
<polygon points="484.6,200.6 487.3,202 493.1,193.2 490.5,191" fill="#831c72" stroke="#831c72"/>
<polygon points="424.4,105.1 427,104.5 433.1,94.4 430.5,95.9" fill="#a64452" stroke="#a64452"/>
<polygon points="413.2,120.3 415.7,118.7 421.8,106.2 419.3,107.8" fill="#831c72" stroke="#831c72"/>
<polygon points="487.3,202 489.9,203.4 495.7,195.1 493.1,193.2" fill="#831c72" stroke="#831c72"/>
<polygon points="437.5,114.1 440.2,120.5 446.3,111.8 443.6,106.4" fill="#a64452" stroke="#a64452"/>
<polygon points="489.9,203.4 492.6,204.5 498.4,196.8 495.7,195.1" fill="#831c72" stroke="#831c72"/>
<polygon points="442.1,135.9 444.8,141.8 451,154.8 448.3,146.3" fill="#831c72" stroke="#831c72"/>
<polygon points="427,104.5 429.6,104.6 435.6,94.2 433.1,94.4" fill="#a64452" stroke="#a64452"/>
<polygon points="434.8,109.2 437.5,114.1 443.6,106.4 440.9,101" fill="#a64452" stroke="#a64452"/>
<polygon points="492.6,204.5 495.3,205.4 501.1,198.3 498.4,196.8" fill="#831c72" stroke="#831c72"/>
<polygon points="407.3,142.4 409.8,137.6 415.7,118.7 413.2,120.3" fill="#b8bf1a" stroke="#b8bf1a"/>
<polygon points="415.7,118.7 418.3,117.4 424.4,105.1 421.8,106.2" fill="#831c72" stroke="#831c72"/>
<polygon points="429.6,104.6 432.2,105.6 438.3,96.6 435.6,94.2" fill="#a64452" stroke="#a64452"/>
<polygon points="432.2,105.6 434.8,109.2 440.9,101 438.3,96.6" fill="#a64452" stroke="#a64452"/>
<polygon points="495.3,205.4 498,206.3 503.7,199.7 501.1,198.3" fill="#831c72" stroke="#831c72"/>
<polygon points="439.4,130.5 442.1,135.9 448.3,146.3 445.6,137.7" fill="#831c72" stroke="#831c72"/>
<polygon points="454.8,182.6 457.5,185.2 463.5,182.7 460.8,179.3" fill="#b8bf1a" stroke="#b8bf1a"/>
<polygon points="452.1,180.5 454.8,182.6 460.8,179.3 458.2,174.9" fill="#b8bf1a" stroke="#b8bf1a"/>
<polygon points="457.5,185.2 460.1,188.4 466.1,185.6 463.5,182.7" fill="#b8bf1a" stroke="#b8bf1a"/>
<polygon points="460.1,188.4 462.8,191.5 468.7,188.1 466.1,185.6" fill="#b8bf1a" stroke="#b8bf1a"/>
<polygon points="462.8,191.5 465.4,194 471.4,190.5 468.7,188.1" fill="#b8bf1a" stroke="#b8bf1a"/>
<polygon points="449.5,178.5 452.1,180.5 458.2,174.9 455.5,168.8" fill="#b8bf1a" stroke="#b8bf1a"/>
<polygon points="498,206.3 500.6,207.1 506.4,200.8 503.7,199.7" fill="#831c72" stroke="#831c72"/>
<polygon points="465.4,194 468.1,195.8 474,192.8 471.4,190.5" fill="#b8bf1a" stroke="#b8bf1a"/>
<polygon points="446.8,176.3 449.5,178.5 455.5,168.8 452.8,162" fill="#b8bf1a" stroke="#b8bf1a"/>
<polygon points="418.3,117.4 420.9,116.5 427,104.5 424.4,105.1" fill="#831c72" stroke="#831c72"/>
<polygon points="468.1,195.8 470.7,197.4 476.7,195 474,192.8" fill="#b8bf1a" stroke="#b8bf1a"/>
<polygon points="444.2,173.9 446.8,176.3 452.8,162 450.2,155.4" fill="#b8bf1a" stroke="#b8bf1a"/>
<polygon points="500.6,207.1 503.3,208 509.1,201.9 506.4,200.8" fill="#831c72" stroke="#831c72"/>
<polygon points="409.8,137.6 412.2,133.2 418.3,117.4 415.7,118.7" fill="#b8bf1a" stroke="#b8bf1a"/>
<polygon points="436.7,126.1 439.4,130.5 445.6,137.7 442.9,128.7" fill="#831c72" stroke="#831c72"/>
<polygon points="470.7,197.4 473.4,198.8 479.3,197 476.7,195" fill="#b8bf1a" stroke="#b8bf1a"/>
<polygon points="441.5,171.2 444.2,173.9 450.2,155.4 447.5,148.4" fill="#b8bf1a" stroke="#b8bf1a"/>
<polygon points="473.4,198.8 476.1,200.2 482,199 479.3,197" fill="#b8bf1a" stroke="#b8bf1a"/>
<polygon points="420.9,116.5 423.4,116 429.6,104.6 427,104.5" fill="#831c72" stroke="#831c72"/>
<polygon points="503.3,208 506,208.9 511.7,202.9 509.1,201.9" fill="#831c72" stroke="#831c72"/>
<polygon points="476.1,200.2 478.7,201.6 484.6,200.6 482,199" fill="#b8bf1a" stroke="#b8bf1a"/>
<polygon points="434,122.1 436.7,126.1 442.9,128.7 440.2,120.5" fill="#831c72" stroke="#831c72"/>
<polygon points="438.9,167.2 441.5,171.2 447.5,148.4 444.8,141.8" fill="#b8bf1a" stroke="#b8bf1a"/>
<polygon points="423.4,116 426.1,116.3 432.2,105.6 429.6,104.6" fill="#831c72" stroke="#831c72"/>
<polygon points="478.7,201.6 481.4,203 487.3,202 484.6,200.6" fill="#b8bf1a" stroke="#b8bf1a"/>
<polygon points="412.2,133.2 414.7,129.7 420.9,116.5 418.3,117.4" fill="#b8bf1a" stroke="#b8bf1a"/>
<polygon points="431.3,119.2 434,122.1 440.2,120.5 437.5,114.1" fill="#831c72" stroke="#831c72"/>
<polygon points="436.2,161.2 438.9,167.2 444.8,141.8 442.1,135.9" fill="#b8bf1a" stroke="#b8bf1a"/>
<polygon points="426.1,116.3 428.7,117.4 434.8,109.2 432.2,105.6" fill="#831c72" stroke="#831c72"/>
<polygon points="481.4,203 484.1,204.4 489.9,203.4 487.3,202" fill="#b8bf1a" stroke="#b8bf1a"/>
<polygon points="428.7,117.4 431.3,119.2 437.5,114.1 434.8,109.2" fill="#831c72" stroke="#831c72"/>
<polygon points="484.1,204.4 486.8,205.8 492.6,204.5 489.9,203.4" fill="#b8bf1a" stroke="#b8bf1a"/>
<polygon points="433.5,154.8 436.2,161.2 442.1,135.9 439.4,130.5" fill="#b8bf1a" stroke="#b8bf1a"/>
<polygon points="486.8,205.8 489.5,207.2 495.3,205.4 492.6,204.5" fill="#b8bf1a" stroke="#b8bf1a"/>
<polygon points="414.7,129.7 417.3,126.3 423.4,116 420.9,116.5" fill="#b8bf1a" stroke="#b8bf1a"/>
<polygon points="430.7,148.7 433.5,154.8 439.4,130.5 436.7,126.1" fill="#b8bf1a" stroke="#b8bf1a"/>
<polygon points="489.5,207.2 492.2,208.6 498,206.3 495.3,205.4" fill="#b8bf1a" stroke="#b8bf1a"/>
<polygon points="428,142.4 430.7,148.7 436.7,126.1 434,122.1" fill="#b8bf1a" stroke="#b8bf1a"/>
<polygon points="492.2,208.6 494.9,209.9 500.6,207.1 498,206.3" fill="#b8bf1a" stroke="#b8bf1a"/>
<polygon points="417.3,126.3 419.8,124.8 426.1,116.3 423.4,116" fill="#b8bf1a" stroke="#b8bf1a"/>
<polygon points="425.3,135.5 428,142.4 434,122.1 431.3,119.2" fill="#b8bf1a" stroke="#b8bf1a"/>
<polygon points="494.9,209.9 497.6,211.3 503.3,208 500.6,207.1" fill="#b8bf1a" stroke="#b8bf1a"/>
<polygon points="422.5,127.8 425.3,135.5 431.3,119.2 428.7,117.4" fill="#b8bf1a" stroke="#b8bf1a"/>
<polygon points="419.8,124.8 422.5,127.8 428.7,117.4 426.1,116.3" fill="#b8bf1a" stroke="#b8bf1a"/>
<polygon points="497.6,211.3 500.3,212.7 506,208.9 503.3,208" fill="#b8bf1a" stroke="#b8bf1a"/>
</g>
<g stroke="#000" stroke-width="0.9" fill="none" stroke-linecap="square">
<polyline points="358.8,177.8 505.9,225.8"/>
<polyline points="505.9,225.8 584,145.6"/>
<polyline points="584,145.6 589,37.5"/>
<polyline points="369.6,179.1 366.3,181.9"/>
<polyline points="399.8,188.9 396.6,191.8"/>
<polyline points="430.7,199 427.5,201.9"/>
<polyline points="462.4,209.3 459.2,212.3"/>
<polyline points="494.7,219.8 491.6,222.9"/>
<polyline points="509.3,219.1 513.8,220.6"/>
<polyline points="515.1,213.3 519.5,214.7"/>
<polyline points="520.7,207.5 525.2,208.9"/>
<polyline points="526.3,201.7 530.8,203.1"/>
<polyline points="531.9,196.1 536.3,197.4"/>
<polyline points="537.3,190.5 541.7,191.8"/>
<polyline points="542.7,185 547.1,186.3"/>
<polyline points="548.1,179.5 552.4,180.8"/>
<polyline points="553.3,174.1 557.7,175.4"/>
<polyline points="558.5,168.8 562.8,170.1"/>
<polyline points="563.7,163.5 568,164.8"/>
<polyline points="568.8,158.3 573,159.6"/>
<polyline points="573.8,153.2 578,154.5"/>
<polyline points="578.7,148.1 583,149.4"/>
<polyline points="582.5,144 587.1,144.5"/>
<polyline points="583.4,124.7 588,125.2"/>
<polyline points="584.3,105.2 588.9,105.7"/>
<polyline points="585.2,85.3 589.8,85.8"/>
<polyline points="586.1,65.1 590.7,65.6"/>
<polyline points="587,44.5 591.6,45"/>
</g>
<g font-family='"Liberation Sans", Arial, sans-serif' font-size="7.6" fill="#000" stroke="#000" stroke-width="0.16">
<text x="362.8" y="196.8" text-anchor="middle">0.01</text>
<text x="393" y="207" text-anchor="middle">0.1</text>
<text x="423.8" y="217.4" text-anchor="middle">1</text>
<text x="456.1" y="227.7" text-anchor="middle">10</text>
<text x="488.6" y="238.2" text-anchor="middle">100</text>
<text transform="translate(520.9,233.6) rotate(17.85)" text-anchor="middle" y="2.7">1105</text>
<text transform="translate(526.6,227.7) rotate(17.85)" text-anchor="middle" y="2.7">1101</text>
<text transform="translate(532.1,221.8) rotate(17.85)" text-anchor="middle" y="2.7">1104</text>
<text transform="translate(537.6,216.1) rotate(17.85)" text-anchor="middle" y="2.7">1099</text>
<text transform="translate(543,210.4) rotate(17.85)" text-anchor="middle" y="2.7">1097</text>
<text transform="translate(548.3,204.7) rotate(17.85)" text-anchor="middle" y="2.7">1100</text>
<text transform="translate(553.6,199.2) rotate(17.85)" text-anchor="middle" y="2.7">1102</text>
<text transform="translate(558.8,193.7) rotate(17.85)" text-anchor="middle" y="2.7">1109</text>
<text transform="translate(563.9,188.3) rotate(17.85)" text-anchor="middle" y="2.7">1098</text>
<text transform="translate(569,182.9) rotate(17.85)" text-anchor="middle" y="2.7">1107</text>
<text transform="translate(574,177.6) rotate(17.85)" text-anchor="middle" y="2.7">1108</text>
<text transform="translate(578.9,172.4) rotate(17.85)" text-anchor="middle" y="2.7">1106</text>
<text transform="translate(583.8,167.2) rotate(17.85)" text-anchor="middle" y="2.7">1095</text>
<text transform="translate(588.7,162.1) rotate(17.85)" text-anchor="middle" y="2.7">1096</text>
<text x="589.3" y="147.7">0.00</text>
<text x="590.2" y="128.5">0.01</text>
<text x="591.1" y="108.9">0.02</text>
<text x="592" y="89">0.03</text>
<text x="592.9" y="68.8">0.04</text>
<text x="593.8" y="48.2">0.05</text>
</g>
<g font-family='"Liberation Sans", Arial, sans-serif' font-size="8.2" fill="#000" stroke="#000" stroke-width="0.16" text-anchor="middle">
<text transform="translate(420,224.6) rotate(18.06)" y="2.5"><tspan font-style="italic">T</tspan><tspan font-size="5.74" dy="1.64">2</tspan><tspan dy="-1.64"> relaxation time (ms)</tspan></text>
<text transform="translate(569,206.7) rotate(-40)" y="2.5">Sample ID</text>
<text transform="translate(614,89.8) rotate(-87.3)" y="2.5">Norm. <tspan font-style="italic">T</tspan><tspan font-size="5.74" dy="1.64">2</tspan><tspan dy="-1.64"> amplitude (a.u.)</tspan></text>
</g>
<defs><linearGradient id="gb" x1="0" y1="0" x2="0" y2="1"><stop offset="0" stop-color="#f0f921"/><stop offset="0.05" stop-color="#f7e425"/><stop offset="0.1" stop-color="#fcce25"/><stop offset="0.15" stop-color="#feba2c"/><stop offset="0.2" stop-color="#fca636"/><stop offset="0.25" stop-color="#f89540"/><stop offset="0.3" stop-color="#f2844b"/><stop offset="0.35" stop-color="#ea7457"/><stop offset="0.4" stop-color="#e16462"/><stop offset="0.45" stop-color="#d6556d"/><stop offset="0.5" stop-color="#cc4778"/><stop offset="0.55" stop-color="#bf3984"/><stop offset="0.6" stop-color="#b12a90"/><stop offset="0.65" stop-color="#a11b9b"/><stop offset="0.7" stop-color="#8f0da4"/><stop offset="0.75" stop-color="#7e03a8"/><stop offset="0.8" stop-color="#6a00a8"/><stop offset="0.85" stop-color="#5601a4"/><stop offset="0.9" stop-color="#41049d"/><stop offset="0.95" stop-color="#2a0593"/><stop offset="1" stop-color="#0d0887"/></linearGradient></defs>
<rect x="635.8" y="29.3" width="16.9" height="165" fill="url(#gb)" stroke="#000" stroke-width="0.9"/>
<g font-family='"Liberation Sans", Arial, sans-serif' font-size="7.6" fill="#000" stroke="#000" stroke-width="0.16">
<line x1="652.7" x2="656.3" y1="175.5" y2="175.5" stroke="#000" stroke-width="0.9"/>
<text x="658.8" y="178.4">0.10</text>
<line x1="652.7" x2="656.3" y1="152.1" y2="152.1" stroke="#000" stroke-width="0.9"/>
<text x="658.8" y="155">0.12</text>
<line x1="652.7" x2="656.3" y1="128.7" y2="128.7" stroke="#000" stroke-width="0.9"/>
<text x="658.8" y="131.6">0.14</text>
<line x1="652.7" x2="656.3" y1="105.3" y2="105.3" stroke="#000" stroke-width="0.9"/>
<text x="658.8" y="108.2">0.16</text>
<line x1="652.7" x2="656.3" y1="81.9" y2="81.9" stroke="#000" stroke-width="0.9"/>
<text x="658.8" y="84.8">0.18</text>
<line x1="652.7" x2="656.3" y1="58.5" y2="58.5" stroke="#000" stroke-width="0.9"/>
<text x="658.8" y="61.5">0.20</text>
<line x1="652.7" x2="656.3" y1="35.1" y2="35.1" stroke="#000" stroke-width="0.9"/>
<text x="658.8" y="38.1">0.22</text>
</g>
<text transform="translate(681,112.3) rotate(-90)" font-family='"Liberation Sans", Arial, sans-serif' font-size="8.2" text-anchor="middle" y="2.9">PI</text>
<text x="349.6" y="11" font-family='"Liberation Sans", Arial, sans-serif' font-size="10.6" font-weight="bold">b</text>
</svg>
</body></html>
